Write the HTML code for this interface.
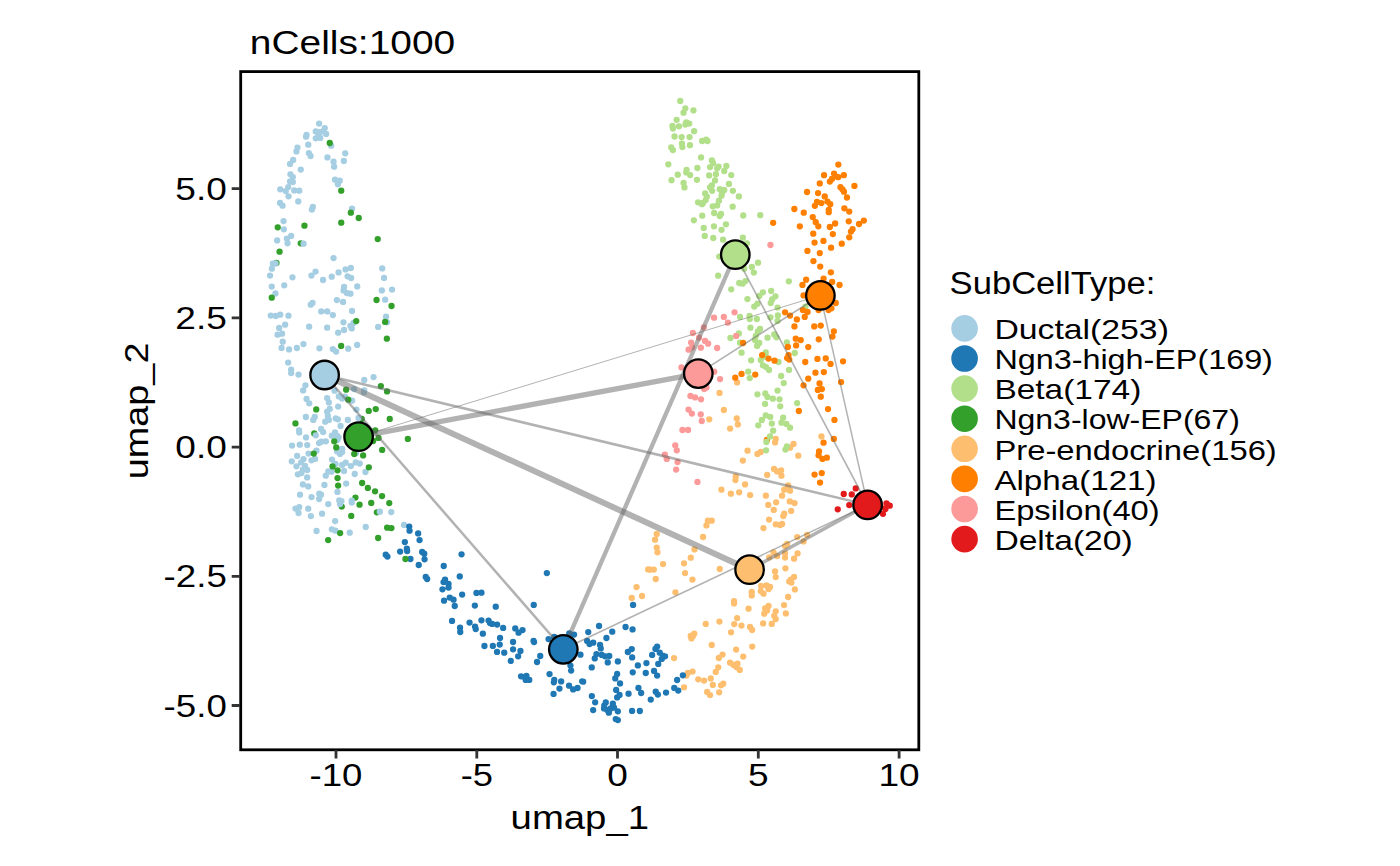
<!DOCTYPE html>
<html><head><meta charset="utf-8"><title>nCells:1000</title>
<style>
html,body{margin:0;padding:0;background:#fff}
body{width:1400px;height:866px;overflow:hidden;font-family:"Liberation Sans",sans-serif}
svg{display:block}
.h text{font-family:"Liberation Sans",sans-serif;fill:#000}
</style></head><body>
<svg width="1400" height="866" viewBox="0 0 1400 866">
<rect width="1400" height="866" fill="#fff"/>
<g id="points">
<path fill="#A6CEE3" d="M316 123.6a3.1 3.1 0 1 0 6.3 0a3.1 3.1 0 1 0 -6.3 0M321.6 128.1a3.1 3.1 0 1 0 6.3 0a3.1 3.1 0 1 0 -6.3 0M312.6 131.4a3.1 3.1 0 1 0 6.3 0a3.1 3.1 0 1 0 -6.3 0M316.4 132.1a3.1 3.1 0 1 0 6.3 0a3.1 3.1 0 1 0 -6.3 0M319.7 131.4a3.1 3.1 0 1 0 6.3 0a3.1 3.1 0 1 0 -6.3 0M323 133.9a3.1 3.1 0 1 0 6.3 0a3.1 3.1 0 1 0 -6.3 0M312.6 138.3a3.1 3.1 0 1 0 6.3 0a3.1 3.1 0 1 0 -6.3 0M317.1 137.9a3.1 3.1 0 1 0 6.3 0a3.1 3.1 0 1 0 -6.3 0M315.4 135a3.1 3.1 0 1 0 6.3 0a3.1 3.1 0 1 0 -6.3 0M303.4 135a3.1 3.1 0 1 0 6.3 0a3.1 3.1 0 1 0 -6.3 0M302.9 136.7a3.1 3.1 0 1 0 6.3 0a3.1 3.1 0 1 0 -6.3 0M305.1 144.7a3.1 3.1 0 1 0 6.3 0a3.1 3.1 0 1 0 -6.3 0M294.3 147.6a3.1 3.1 0 1 0 6.3 0a3.1 3.1 0 1 0 -6.3 0M293.3 151.4a3.1 3.1 0 1 0 6.3 0a3.1 3.1 0 1 0 -6.3 0M305.7 153.1a3.1 3.1 0 1 0 6.3 0a3.1 3.1 0 1 0 -6.3 0M307.4 156a3.1 3.1 0 1 0 6.3 0a3.1 3.1 0 1 0 -6.3 0M290 160a3.1 3.1 0 1 0 6.3 0a3.1 3.1 0 1 0 -6.3 0M286.9 163.9a3.1 3.1 0 1 0 6.3 0a3.1 3.1 0 1 0 -6.3 0M297.6 169.6a3.1 3.1 0 1 0 6.3 0a3.1 3.1 0 1 0 -6.3 0M287.3 174.3a3.1 3.1 0 1 0 6.3 0a3.1 3.1 0 1 0 -6.3 0M289.7 177.1a3.1 3.1 0 1 0 6.3 0a3.1 3.1 0 1 0 -6.3 0M286.9 181.4a3.1 3.1 0 1 0 6.3 0a3.1 3.1 0 1 0 -6.3 0M289.7 182.1a3.1 3.1 0 1 0 6.3 0a3.1 3.1 0 1 0 -6.3 0M285.1 187.1a3.1 3.1 0 1 0 6.3 0a3.1 3.1 0 1 0 -6.3 0M282.6 191.1a3.1 3.1 0 1 0 6.3 0a3.1 3.1 0 1 0 -6.3 0M277.1 189.3a3.1 3.1 0 1 0 6.3 0a3.1 3.1 0 1 0 -6.3 0M291.1 190.4a3.1 3.1 0 1 0 6.3 0a3.1 3.1 0 1 0 -6.3 0M296.1 190.7a3.1 3.1 0 1 0 6.3 0a3.1 3.1 0 1 0 -6.3 0M285.4 196.3a3.1 3.1 0 1 0 6.3 0a3.1 3.1 0 1 0 -6.3 0M295.1 201.4a3.1 3.1 0 1 0 6.3 0a3.1 3.1 0 1 0 -6.3 0M276.9 202.9a3.1 3.1 0 1 0 6.3 0a3.1 3.1 0 1 0 -6.3 0M279.4 205.7a3.1 3.1 0 1 0 6.3 0a3.1 3.1 0 1 0 -6.3 0M309.7 206.9a3.1 3.1 0 1 0 6.3 0a3.1 3.1 0 1 0 -6.3 0M308.7 209.6a3.1 3.1 0 1 0 6.3 0a3.1 3.1 0 1 0 -6.3 0M280.4 221.1a3.1 3.1 0 1 0 6.3 0a3.1 3.1 0 1 0 -6.3 0M280.7 229.3a3.1 3.1 0 1 0 6.3 0a3.1 3.1 0 1 0 -6.3 0M328 145.7a3.1 3.1 0 1 0 6.3 0a3.1 3.1 0 1 0 -6.3 0M324.3 157.4a3.1 3.1 0 1 0 6.3 0a3.1 3.1 0 1 0 -6.3 0M330.4 161.7a3.1 3.1 0 1 0 6.3 0a3.1 3.1 0 1 0 -6.3 0M331 166.7a3.1 3.1 0 1 0 6.3 0a3.1 3.1 0 1 0 -6.3 0M342.1 153.3a3.1 3.1 0 1 0 6.3 0a3.1 3.1 0 1 0 -6.3 0M340.7 160.9a3.1 3.1 0 1 0 6.3 0a3.1 3.1 0 1 0 -6.3 0M331.9 179.7a3.1 3.1 0 1 0 6.3 0a3.1 3.1 0 1 0 -6.3 0M336.6 180.7a3.1 3.1 0 1 0 6.3 0a3.1 3.1 0 1 0 -6.3 0M334.7 184.3a3.1 3.1 0 1 0 6.3 0a3.1 3.1 0 1 0 -6.3 0M348.9 208.6a3.1 3.1 0 1 0 6.3 0a3.1 3.1 0 1 0 -6.3 0"/>
<path fill="#33A02C" d="M326.6 143a3.1 3.1 0 1 0 6.3 0a3.1 3.1 0 1 0 -6.3 0M338.1 190.7a3.1 3.1 0 1 0 6.3 0a3.1 3.1 0 1 0 -6.3 0M347.7 212.7a3.1 3.1 0 1 0 6.3 0a3.1 3.1 0 1 0 -6.3 0M355.6 218a3.1 3.1 0 1 0 6.3 0a3.1 3.1 0 1 0 -6.3 0M338.1 222.7a3.1 3.1 0 1 0 6.3 0a3.1 3.1 0 1 0 -6.3 0M301.3 225.7a3.1 3.1 0 1 0 6.3 0a3.1 3.1 0 1 0 -6.3 0M274.6 227.3a3.1 3.1 0 1 0 6.3 0a3.1 3.1 0 1 0 -6.3 0"/>
<path fill="#33A02C" d="M297.6 243.3a3.1 3.1 0 1 0 6.3 0a3.1 3.1 0 1 0 -6.3 0M273.3 263a3.1 3.1 0 1 0 6.3 0a3.1 3.1 0 1 0 -6.3 0"/>
<path fill="#A6CEE3" d="M288 235.9a3.1 3.1 0 1 0 6.3 0a3.1 3.1 0 1 0 -6.3 0M283.7 238.7a3.1 3.1 0 1 0 6.3 0a3.1 3.1 0 1 0 -6.3 0M284.4 243.3a3.1 3.1 0 1 0 6.3 0a3.1 3.1 0 1 0 -6.3 0M274 240.4a3.1 3.1 0 1 0 6.3 0a3.1 3.1 0 1 0 -6.3 0M300.4 243.7a3.1 3.1 0 1 0 6.3 0a3.1 3.1 0 1 0 -6.3 0M269.7 263.7a3.1 3.1 0 1 0 6.3 0a3.1 3.1 0 1 0 -6.3 0M272.3 263.4a3.1 3.1 0 1 0 6.3 0a3.1 3.1 0 1 0 -6.3 0M268.7 268.7a3.1 3.1 0 1 0 6.3 0a3.1 3.1 0 1 0 -6.3 0M266.9 275.6a3.1 3.1 0 1 0 6.3 0a3.1 3.1 0 1 0 -6.3 0M289.3 277.3a3.1 3.1 0 1 0 6.3 0a3.1 3.1 0 1 0 -6.3 0M268.6 286.6a3.1 3.1 0 1 0 6.3 0a3.1 3.1 0 1 0 -6.3 0M281.1 285.3a3.1 3.1 0 1 0 6.3 0a3.1 3.1 0 1 0 -6.3 0M272.3 293.4a3.1 3.1 0 1 0 6.3 0a3.1 3.1 0 1 0 -6.3 0M330.4 258.1a3.1 3.1 0 1 0 6.3 0a3.1 3.1 0 1 0 -6.3 0M312.4 271.6a3.1 3.1 0 1 0 6.3 0a3.1 3.1 0 1 0 -6.3 0M308.3 275.6a3.1 3.1 0 1 0 6.3 0a3.1 3.1 0 1 0 -6.3 0M319.9 280a3.1 3.1 0 1 0 6.3 0a3.1 3.1 0 1 0 -6.3 0M328.6 276.7a3.1 3.1 0 1 0 6.3 0a3.1 3.1 0 1 0 -6.3 0M335.4 272.4a3.1 3.1 0 1 0 6.3 0a3.1 3.1 0 1 0 -6.3 0M342.4 269.4a3.1 3.1 0 1 0 6.3 0a3.1 3.1 0 1 0 -6.3 0M347.7 268a3.1 3.1 0 1 0 6.3 0a3.1 3.1 0 1 0 -6.3 0M344.4 276.3a3.1 3.1 0 1 0 6.3 0a3.1 3.1 0 1 0 -6.3 0M348 278a3.1 3.1 0 1 0 6.3 0a3.1 3.1 0 1 0 -6.3 0M340.9 287a3.1 3.1 0 1 0 6.3 0a3.1 3.1 0 1 0 -6.3 0M340.4 290.4a3.1 3.1 0 1 0 6.3 0a3.1 3.1 0 1 0 -6.3 0M343.7 293a3.1 3.1 0 1 0 6.3 0a3.1 3.1 0 1 0 -6.3 0M347.3 293.7a3.1 3.1 0 1 0 6.3 0a3.1 3.1 0 1 0 -6.3 0M354.1 286.4a3.1 3.1 0 1 0 6.3 0a3.1 3.1 0 1 0 -6.3 0M333.7 300.1a3.1 3.1 0 1 0 6.3 0a3.1 3.1 0 1 0 -6.3 0M339.9 301.9a3.1 3.1 0 1 0 6.3 0a3.1 3.1 0 1 0 -6.3 0M309.4 303a3.1 3.1 0 1 0 6.3 0a3.1 3.1 0 1 0 -6.3 0M307.6 304.7a3.1 3.1 0 1 0 6.3 0a3.1 3.1 0 1 0 -6.3 0M318.1 311.4a3.1 3.1 0 1 0 6.3 0a3.1 3.1 0 1 0 -6.3 0M324.1 311.4a3.1 3.1 0 1 0 6.3 0a3.1 3.1 0 1 0 -6.3 0M329.7 315.1a3.1 3.1 0 1 0 6.3 0a3.1 3.1 0 1 0 -6.3 0M348.9 310.9a3.1 3.1 0 1 0 6.3 0a3.1 3.1 0 1 0 -6.3 0M267.6 315.6a3.1 3.1 0 1 0 6.3 0a3.1 3.1 0 1 0 -6.3 0M272.6 316a3.1 3.1 0 1 0 6.3 0a3.1 3.1 0 1 0 -6.3 0M277.1 314.7a3.1 3.1 0 1 0 6.3 0a3.1 3.1 0 1 0 -6.3 0M285.3 315.7a3.1 3.1 0 1 0 6.3 0a3.1 3.1 0 1 0 -6.3 0M282 324.7a3.1 3.1 0 1 0 6.3 0a3.1 3.1 0 1 0 -6.3 0M276 327.9a3.1 3.1 0 1 0 6.3 0a3.1 3.1 0 1 0 -6.3 0M274.4 334.7a3.1 3.1 0 1 0 6.3 0a3.1 3.1 0 1 0 -6.3 0M278.9 333.7a3.1 3.1 0 1 0 6.3 0a3.1 3.1 0 1 0 -6.3 0M279.6 341.7a3.1 3.1 0 1 0 6.3 0a3.1 3.1 0 1 0 -6.3 0M278.4 347.9a3.1 3.1 0 1 0 6.3 0a3.1 3.1 0 1 0 -6.3 0M285.9 349.4a3.1 3.1 0 1 0 6.3 0a3.1 3.1 0 1 0 -6.3 0M293.7 348a3.1 3.1 0 1 0 6.3 0a3.1 3.1 0 1 0 -6.3 0M300.3 344.1a3.1 3.1 0 1 0 6.3 0a3.1 3.1 0 1 0 -6.3 0M306 326.7a3.1 3.1 0 1 0 6.3 0a3.1 3.1 0 1 0 -6.3 0M324 327.7a3.1 3.1 0 1 0 6.3 0a3.1 3.1 0 1 0 -6.3 0M340.3 322.3a3.1 3.1 0 1 0 6.3 0a3.1 3.1 0 1 0 -6.3 0M350.4 323a3.1 3.1 0 1 0 6.3 0a3.1 3.1 0 1 0 -6.3 0M347.3 325.9a3.1 3.1 0 1 0 6.3 0a3.1 3.1 0 1 0 -6.3 0M348.6 328.4a3.1 3.1 0 1 0 6.3 0a3.1 3.1 0 1 0 -6.3 0M340.9 330a3.1 3.1 0 1 0 6.3 0a3.1 3.1 0 1 0 -6.3 0M335 332.7a3.1 3.1 0 1 0 6.3 0a3.1 3.1 0 1 0 -6.3 0M316.3 348.3a3.1 3.1 0 1 0 6.3 0a3.1 3.1 0 1 0 -6.3 0M329.7 349.1a3.1 3.1 0 1 0 6.3 0a3.1 3.1 0 1 0 -6.3 0M333 351.6a3.1 3.1 0 1 0 6.3 0a3.1 3.1 0 1 0 -6.3 0M345.1 348.7a3.1 3.1 0 1 0 6.3 0a3.1 3.1 0 1 0 -6.3 0M354 344.9a3.1 3.1 0 1 0 6.3 0a3.1 3.1 0 1 0 -6.3 0M379.1 268.4a3.1 3.1 0 1 0 6.3 0a3.1 3.1 0 1 0 -6.3 0M380.9 277.9a3.1 3.1 0 1 0 6.3 0a3.1 3.1 0 1 0 -6.3 0M378.7 290.4a3.1 3.1 0 1 0 6.3 0a3.1 3.1 0 1 0 -6.3 0M388.9 289.6a3.1 3.1 0 1 0 6.3 0a3.1 3.1 0 1 0 -6.3 0M382 299.7a3.1 3.1 0 1 0 6.3 0a3.1 3.1 0 1 0 -6.3 0M382.9 316.7a3.1 3.1 0 1 0 6.3 0a3.1 3.1 0 1 0 -6.3 0M384 322.3a3.1 3.1 0 1 0 6.3 0a3.1 3.1 0 1 0 -6.3 0M375 326.9a3.1 3.1 0 1 0 6.3 0a3.1 3.1 0 1 0 -6.3 0"/>
<path fill="#33A02C" d="M374.6 239.1a3.1 3.1 0 1 0 6.3 0a3.1 3.1 0 1 0 -6.3 0M276.4 251.7a3.1 3.1 0 1 0 6.3 0a3.1 3.1 0 1 0 -6.3 0M268.6 297.7a3.1 3.1 0 1 0 6.3 0a3.1 3.1 0 1 0 -6.3 0M373.4 300a3.1 3.1 0 1 0 6.3 0a3.1 3.1 0 1 0 -6.3 0M388.4 306a3.1 3.1 0 1 0 6.3 0a3.1 3.1 0 1 0 -6.3 0M353.1 321.1a3.1 3.1 0 1 0 6.3 0a3.1 3.1 0 1 0 -6.3 0M382 321.9a3.1 3.1 0 1 0 6.3 0a3.1 3.1 0 1 0 -6.3 0M383.7 338.7a3.1 3.1 0 1 0 6.3 0a3.1 3.1 0 1 0 -6.3 0M338 345.9a3.1 3.1 0 1 0 6.3 0a3.1 3.1 0 1 0 -6.3 0"/>
<path fill="#33A02C" d="M311.1 433.4a3.1 3.1 0 1 0 6.3 0a3.1 3.1 0 1 0 -6.3 0M358.6 418.9a3.1 3.1 0 1 0 6.3 0a3.1 3.1 0 1 0 -6.3 0"/>
<path fill="#A6CEE3" d="M285 362.6a3.1 3.1 0 1 0 6.3 0a3.1 3.1 0 1 0 -6.3 0M288 369.6a3.1 3.1 0 1 0 6.3 0a3.1 3.1 0 1 0 -6.3 0M288 373.1a3.1 3.1 0 1 0 6.3 0a3.1 3.1 0 1 0 -6.3 0M295.4 374.6a3.1 3.1 0 1 0 6.3 0a3.1 3.1 0 1 0 -6.3 0M302.3 385.3a3.1 3.1 0 1 0 6.3 0a3.1 3.1 0 1 0 -6.3 0M300 390.4a3.1 3.1 0 1 0 6.3 0a3.1 3.1 0 1 0 -6.3 0M303.4 398.9a3.1 3.1 0 1 0 6.3 0a3.1 3.1 0 1 0 -6.3 0M306.1 403.3a3.1 3.1 0 1 0 6.3 0a3.1 3.1 0 1 0 -6.3 0M302.7 417a3.1 3.1 0 1 0 6.3 0a3.1 3.1 0 1 0 -6.3 0M311.6 417a3.1 3.1 0 1 0 6.3 0a3.1 3.1 0 1 0 -6.3 0M310.1 419.9a3.1 3.1 0 1 0 6.3 0a3.1 3.1 0 1 0 -6.3 0M324 398.1a3.1 3.1 0 1 0 6.3 0a3.1 3.1 0 1 0 -6.3 0M325.7 402.4a3.1 3.1 0 1 0 6.3 0a3.1 3.1 0 1 0 -6.3 0M326.6 408.9a3.1 3.1 0 1 0 6.3 0a3.1 3.1 0 1 0 -6.3 0M324 411.7a3.1 3.1 0 1 0 6.3 0a3.1 3.1 0 1 0 -6.3 0M324.7 416a3.1 3.1 0 1 0 6.3 0a3.1 3.1 0 1 0 -6.3 0M325.7 419.9a3.1 3.1 0 1 0 6.3 0a3.1 3.1 0 1 0 -6.3 0M322.1 421.7a3.1 3.1 0 1 0 6.3 0a3.1 3.1 0 1 0 -6.3 0M335 406.6a3.1 3.1 0 1 0 6.3 0a3.1 3.1 0 1 0 -6.3 0M332.6 418.4a3.1 3.1 0 1 0 6.3 0a3.1 3.1 0 1 0 -6.3 0M334.7 419.3a3.1 3.1 0 1 0 6.3 0a3.1 3.1 0 1 0 -6.3 0M337.4 425.9a3.1 3.1 0 1 0 6.3 0a3.1 3.1 0 1 0 -6.3 0M344.7 420a3.1 3.1 0 1 0 6.3 0a3.1 3.1 0 1 0 -6.3 0M353.3 409.6a3.1 3.1 0 1 0 6.3 0a3.1 3.1 0 1 0 -6.3 0M355.4 417.9a3.1 3.1 0 1 0 6.3 0a3.1 3.1 0 1 0 -6.3 0M331.4 390.7a3.1 3.1 0 1 0 6.3 0a3.1 3.1 0 1 0 -6.3 0M335.7 396.4a3.1 3.1 0 1 0 6.3 0a3.1 3.1 0 1 0 -6.3 0M339 398.6a3.1 3.1 0 1 0 6.3 0a3.1 3.1 0 1 0 -6.3 0M341.9 396.7a3.1 3.1 0 1 0 6.3 0a3.1 3.1 0 1 0 -6.3 0M349 400.7a3.1 3.1 0 1 0 6.3 0a3.1 3.1 0 1 0 -6.3 0M361.1 380a3.1 3.1 0 1 0 6.3 0a3.1 3.1 0 1 0 -6.3 0M370.4 377.1a3.1 3.1 0 1 0 6.3 0a3.1 3.1 0 1 0 -6.3 0M361.1 390.3a3.1 3.1 0 1 0 6.3 0a3.1 3.1 0 1 0 -6.3 0M350.9 389.1a3.1 3.1 0 1 0 6.3 0a3.1 3.1 0 1 0 -6.3 0M360.7 392.4a3.1 3.1 0 1 0 6.3 0a3.1 3.1 0 1 0 -6.3 0M295.9 430.3a3.1 3.1 0 1 0 6.3 0a3.1 3.1 0 1 0 -6.3 0M296.1 432.4a3.1 3.1 0 1 0 6.3 0a3.1 3.1 0 1 0 -6.3 0M317.9 428.9a3.1 3.1 0 1 0 6.3 0a3.1 3.1 0 1 0 -6.3 0M320 432.1a3.1 3.1 0 1 0 6.3 0a3.1 3.1 0 1 0 -6.3 0M302.9 437.4a3.1 3.1 0 1 0 6.3 0a3.1 3.1 0 1 0 -6.3 0M312.6 435.3a3.1 3.1 0 1 0 6.3 0a3.1 3.1 0 1 0 -6.3 0M331.9 432.4a3.1 3.1 0 1 0 6.3 0a3.1 3.1 0 1 0 -6.3 0M328.7 435.7a3.1 3.1 0 1 0 6.3 0a3.1 3.1 0 1 0 -6.3 0M334 436a3.1 3.1 0 1 0 6.3 0a3.1 3.1 0 1 0 -6.3 0M335.4 437.4a3.1 3.1 0 1 0 6.3 0a3.1 3.1 0 1 0 -6.3 0M334.3 440a3.1 3.1 0 1 0 6.3 0a3.1 3.1 0 1 0 -6.3 0M315.9 443.1a3.1 3.1 0 1 0 6.3 0a3.1 3.1 0 1 0 -6.3 0M318.3 441.7a3.1 3.1 0 1 0 6.3 0a3.1 3.1 0 1 0 -6.3 0M322.7 441.3a3.1 3.1 0 1 0 6.3 0a3.1 3.1 0 1 0 -6.3 0M288.9 445.6a3.1 3.1 0 1 0 6.3 0a3.1 3.1 0 1 0 -6.3 0M296.6 444.7a3.1 3.1 0 1 0 6.3 0a3.1 3.1 0 1 0 -6.3 0M304.1 445.1a3.1 3.1 0 1 0 6.3 0a3.1 3.1 0 1 0 -6.3 0M313.3 450.7a3.1 3.1 0 1 0 6.3 0a3.1 3.1 0 1 0 -6.3 0M305.4 453.6a3.1 3.1 0 1 0 6.3 0a3.1 3.1 0 1 0 -6.3 0M294 455.9a3.1 3.1 0 1 0 6.3 0a3.1 3.1 0 1 0 -6.3 0M288.6 461.3a3.1 3.1 0 1 0 6.3 0a3.1 3.1 0 1 0 -6.3 0M300.4 459.1a3.1 3.1 0 1 0 6.3 0a3.1 3.1 0 1 0 -6.3 0M298 462.4a3.1 3.1 0 1 0 6.3 0a3.1 3.1 0 1 0 -6.3 0M308.3 460.3a3.1 3.1 0 1 0 6.3 0a3.1 3.1 0 1 0 -6.3 0M311.9 458.9a3.1 3.1 0 1 0 6.3 0a3.1 3.1 0 1 0 -6.3 0M293.3 466.3a3.1 3.1 0 1 0 6.3 0a3.1 3.1 0 1 0 -6.3 0M301.9 466a3.1 3.1 0 1 0 6.3 0a3.1 3.1 0 1 0 -6.3 0M299.7 469.6a3.1 3.1 0 1 0 6.3 0a3.1 3.1 0 1 0 -6.3 0M304 469.9a3.1 3.1 0 1 0 6.3 0a3.1 3.1 0 1 0 -6.3 0M294.7 474.3a3.1 3.1 0 1 0 6.3 0a3.1 3.1 0 1 0 -6.3 0M298.3 473.1a3.1 3.1 0 1 0 6.3 0a3.1 3.1 0 1 0 -6.3 0M304 477.4a3.1 3.1 0 1 0 6.3 0a3.1 3.1 0 1 0 -6.3 0M337.1 449.6a3.1 3.1 0 1 0 6.3 0a3.1 3.1 0 1 0 -6.3 0M339 448.9a3.1 3.1 0 1 0 6.3 0a3.1 3.1 0 1 0 -6.3 0M334 451.4a3.1 3.1 0 1 0 6.3 0a3.1 3.1 0 1 0 -6.3 0M336.9 453.9a3.1 3.1 0 1 0 6.3 0a3.1 3.1 0 1 0 -6.3 0M339 452a3.1 3.1 0 1 0 6.3 0a3.1 3.1 0 1 0 -6.3 0M328.9 459.6a3.1 3.1 0 1 0 6.3 0a3.1 3.1 0 1 0 -6.3 0M332.3 463.9a3.1 3.1 0 1 0 6.3 0a3.1 3.1 0 1 0 -6.3 0M339 464.9a3.1 3.1 0 1 0 6.3 0a3.1 3.1 0 1 0 -6.3 0M342.6 462.7a3.1 3.1 0 1 0 6.3 0a3.1 3.1 0 1 0 -6.3 0M347.7 466.1a3.1 3.1 0 1 0 6.3 0a3.1 3.1 0 1 0 -6.3 0M352.6 462.4a3.1 3.1 0 1 0 6.3 0a3.1 3.1 0 1 0 -6.3 0M356.6 463.6a3.1 3.1 0 1 0 6.3 0a3.1 3.1 0 1 0 -6.3 0M325.1 471.4a3.1 3.1 0 1 0 6.3 0a3.1 3.1 0 1 0 -6.3 0M328.3 471.7a3.1 3.1 0 1 0 6.3 0a3.1 3.1 0 1 0 -6.3 0M322.6 475.7a3.1 3.1 0 1 0 6.3 0a3.1 3.1 0 1 0 -6.3 0M340.9 470.9a3.1 3.1 0 1 0 6.3 0a3.1 3.1 0 1 0 -6.3 0M351.6 474a3.1 3.1 0 1 0 6.3 0a3.1 3.1 0 1 0 -6.3 0M362.3 472a3.1 3.1 0 1 0 6.3 0a3.1 3.1 0 1 0 -6.3 0M352.9 453.1a3.1 3.1 0 1 0 6.3 0a3.1 3.1 0 1 0 -6.3 0"/>
<path fill="#33A02C" d="M343 389.7a3.1 3.1 0 1 0 6.3 0a3.1 3.1 0 1 0 -6.3 0M345.1 399.7a3.1 3.1 0 1 0 6.3 0a3.1 3.1 0 1 0 -6.3 0M377.7 386.1a3.1 3.1 0 1 0 6.3 0a3.1 3.1 0 1 0 -6.3 0M383.9 391.4a3.1 3.1 0 1 0 6.3 0a3.1 3.1 0 1 0 -6.3 0M313.1 409.4a3.1 3.1 0 1 0 6.3 0a3.1 3.1 0 1 0 -6.3 0M365.6 410.9a3.1 3.1 0 1 0 6.3 0a3.1 3.1 0 1 0 -6.3 0M372.6 409.1a3.1 3.1 0 1 0 6.3 0a3.1 3.1 0 1 0 -6.3 0M386.6 418.9a3.1 3.1 0 1 0 6.3 0a3.1 3.1 0 1 0 -6.3 0M292.3 423.4a3.1 3.1 0 1 0 6.3 0a3.1 3.1 0 1 0 -6.3 0M372.1 430.3a3.1 3.1 0 1 0 6.3 0a3.1 3.1 0 1 0 -6.3 0M375.4 437.9a3.1 3.1 0 1 0 6.3 0a3.1 3.1 0 1 0 -6.3 0M370 441a3.1 3.1 0 1 0 6.3 0a3.1 3.1 0 1 0 -6.3 0M404.7 438.9a3.1 3.1 0 1 0 6.3 0a3.1 3.1 0 1 0 -6.3 0M379 449.9a3.1 3.1 0 1 0 6.3 0a3.1 3.1 0 1 0 -6.3 0M331.1 441.3a3.1 3.1 0 1 0 6.3 0a3.1 3.1 0 1 0 -6.3 0M333.1 447.4a3.1 3.1 0 1 0 6.3 0a3.1 3.1 0 1 0 -6.3 0M310.6 453.6a3.1 3.1 0 1 0 6.3 0a3.1 3.1 0 1 0 -6.3 0M351.1 454a3.1 3.1 0 1 0 6.3 0a3.1 3.1 0 1 0 -6.3 0M360 455.4a3.1 3.1 0 1 0 6.3 0a3.1 3.1 0 1 0 -6.3 0M365.7 467.3a3.1 3.1 0 1 0 6.3 0a3.1 3.1 0 1 0 -6.3 0M329.4 466.4a3.1 3.1 0 1 0 6.3 0a3.1 3.1 0 1 0 -6.3 0M334.4 470.3a3.1 3.1 0 1 0 6.3 0a3.1 3.1 0 1 0 -6.3 0M334.4 478.1a3.1 3.1 0 1 0 6.3 0a3.1 3.1 0 1 0 -6.3 0"/>
<path fill="#33A02C" d="M352.3 497.6a3.1 3.1 0 1 0 6.3 0a3.1 3.1 0 1 0 -6.3 0M338.6 506.6a3.1 3.1 0 1 0 6.3 0a3.1 3.1 0 1 0 -6.3 0M373.7 512.3a3.1 3.1 0 1 0 6.3 0a3.1 3.1 0 1 0 -6.3 0"/>
<path fill="#A6CEE3" d="M299.7 484.4a3.1 3.1 0 1 0 6.3 0a3.1 3.1 0 1 0 -6.3 0M305.1 486.4a3.1 3.1 0 1 0 6.3 0a3.1 3.1 0 1 0 -6.3 0M321.3 484.9a3.1 3.1 0 1 0 6.3 0a3.1 3.1 0 1 0 -6.3 0M343 483.6a3.1 3.1 0 1 0 6.3 0a3.1 3.1 0 1 0 -6.3 0M296.9 494.7a3.1 3.1 0 1 0 6.3 0a3.1 3.1 0 1 0 -6.3 0M308.4 497.1a3.1 3.1 0 1 0 6.3 0a3.1 3.1 0 1 0 -6.3 0M316.1 493.7a3.1 3.1 0 1 0 6.3 0a3.1 3.1 0 1 0 -6.3 0M317.9 494.7a3.1 3.1 0 1 0 6.3 0a3.1 3.1 0 1 0 -6.3 0M316 499a3.1 3.1 0 1 0 6.3 0a3.1 3.1 0 1 0 -6.3 0M334.3 491.9a3.1 3.1 0 1 0 6.3 0a3.1 3.1 0 1 0 -6.3 0M336.1 500.4a3.1 3.1 0 1 0 6.3 0a3.1 3.1 0 1 0 -6.3 0M338.3 501.1a3.1 3.1 0 1 0 6.3 0a3.1 3.1 0 1 0 -6.3 0M336.9 504a3.1 3.1 0 1 0 6.3 0a3.1 3.1 0 1 0 -6.3 0M325.1 504.1a3.1 3.1 0 1 0 6.3 0a3.1 3.1 0 1 0 -6.3 0M348.6 500.7a3.1 3.1 0 1 0 6.3 0a3.1 3.1 0 1 0 -6.3 0M348.6 502.6a3.1 3.1 0 1 0 6.3 0a3.1 3.1 0 1 0 -6.3 0M292.3 508.6a3.1 3.1 0 1 0 6.3 0a3.1 3.1 0 1 0 -6.3 0M296.1 507.1a3.1 3.1 0 1 0 6.3 0a3.1 3.1 0 1 0 -6.3 0M295.4 513a3.1 3.1 0 1 0 6.3 0a3.1 3.1 0 1 0 -6.3 0M305.1 508.7a3.1 3.1 0 1 0 6.3 0a3.1 3.1 0 1 0 -6.3 0M307.7 516.1a3.1 3.1 0 1 0 6.3 0a3.1 3.1 0 1 0 -6.3 0M318.9 513.7a3.1 3.1 0 1 0 6.3 0a3.1 3.1 0 1 0 -6.3 0M332 521.1a3.1 3.1 0 1 0 6.3 0a3.1 3.1 0 1 0 -6.3 0M376.7 511.7a3.1 3.1 0 1 0 6.3 0a3.1 3.1 0 1 0 -6.3 0M388.1 512.1a3.1 3.1 0 1 0 6.3 0a3.1 3.1 0 1 0 -6.3 0M362.6 527a3.1 3.1 0 1 0 6.3 0a3.1 3.1 0 1 0 -6.3 0M400.9 524.9a3.1 3.1 0 1 0 6.3 0a3.1 3.1 0 1 0 -6.3 0M313.4 531a3.1 3.1 0 1 0 6.3 0a3.1 3.1 0 1 0 -6.3 0M328.7 529.3a3.1 3.1 0 1 0 6.3 0a3.1 3.1 0 1 0 -6.3 0M332.3 530.7a3.1 3.1 0 1 0 6.3 0a3.1 3.1 0 1 0 -6.3 0M346.6 532.7a3.1 3.1 0 1 0 6.3 0a3.1 3.1 0 1 0 -6.3 0"/>
<path fill="#1F78B4" d="M406.1 526.6a3.1 3.1 0 1 0 6.3 0a3.1 3.1 0 1 0 -6.3 0M406.4 530.7a3.1 3.1 0 1 0 6.3 0a3.1 3.1 0 1 0 -6.3 0M415 533.4a3.1 3.1 0 1 0 6.3 0a3.1 3.1 0 1 0 -6.3 0M416.4 540.1a3.1 3.1 0 1 0 6.3 0a3.1 3.1 0 1 0 -6.3 0M401.7 542.1a3.1 3.1 0 1 0 6.3 0a3.1 3.1 0 1 0 -6.3 0M403.7 548.7a3.1 3.1 0 1 0 6.3 0a3.1 3.1 0 1 0 -6.3 0M404 551.1a3.1 3.1 0 1 0 6.3 0a3.1 3.1 0 1 0 -6.3 0M397 551.6a3.1 3.1 0 1 0 6.3 0a3.1 3.1 0 1 0 -6.3 0M419 551.9a3.1 3.1 0 1 0 6.3 0a3.1 3.1 0 1 0 -6.3 0M421.1 553.7a3.1 3.1 0 1 0 6.3 0a3.1 3.1 0 1 0 -6.3 0M421.4 559.3a3.1 3.1 0 1 0 6.3 0a3.1 3.1 0 1 0 -6.3 0M382.6 554.7a3.1 3.1 0 1 0 6.3 0a3.1 3.1 0 1 0 -6.3 0M384.3 556.6a3.1 3.1 0 1 0 6.3 0a3.1 3.1 0 1 0 -6.3 0M407.3 559a3.1 3.1 0 1 0 6.3 0a3.1 3.1 0 1 0 -6.3 0M415.6 565a3.1 3.1 0 1 0 6.3 0a3.1 3.1 0 1 0 -6.3 0M440.6 566a3.1 3.1 0 1 0 6.3 0a3.1 3.1 0 1 0 -6.3 0M422.6 576.9a3.1 3.1 0 1 0 6.3 0a3.1 3.1 0 1 0 -6.3 0M424 579a3.1 3.1 0 1 0 6.3 0a3.1 3.1 0 1 0 -6.3 0M441.9 579.7a3.1 3.1 0 1 0 6.3 0a3.1 3.1 0 1 0 -6.3 0M440.4 582.1a3.1 3.1 0 1 0 6.3 0a3.1 3.1 0 1 0 -6.3 0M445.4 584a3.1 3.1 0 1 0 6.3 0a3.1 3.1 0 1 0 -6.3 0M439.3 589.3a3.1 3.1 0 1 0 6.3 0a3.1 3.1 0 1 0 -6.3 0M445.4 587.6a3.1 3.1 0 1 0 6.3 0a3.1 3.1 0 1 0 -6.3 0M440.9 600.7a3.1 3.1 0 1 0 6.3 0a3.1 3.1 0 1 0 -6.3 0M446.6 597.6a3.1 3.1 0 1 0 6.3 0a3.1 3.1 0 1 0 -6.3 0"/>
<path fill="#33A02C" d="M335 485.6a3.1 3.1 0 1 0 6.3 0a3.1 3.1 0 1 0 -6.3 0M359 483a3.1 3.1 0 1 0 6.3 0a3.1 3.1 0 1 0 -6.3 0M364.7 487.9a3.1 3.1 0 1 0 6.3 0a3.1 3.1 0 1 0 -6.3 0M371.9 491.3a3.1 3.1 0 1 0 6.3 0a3.1 3.1 0 1 0 -6.3 0M378.9 496.1a3.1 3.1 0 1 0 6.3 0a3.1 3.1 0 1 0 -6.3 0M386.1 503.1a3.1 3.1 0 1 0 6.3 0a3.1 3.1 0 1 0 -6.3 0M356.4 504.7a3.1 3.1 0 1 0 6.3 0a3.1 3.1 0 1 0 -6.3 0M368.1 502.9a3.1 3.1 0 1 0 6.3 0a3.1 3.1 0 1 0 -6.3 0M348.1 515.9a3.1 3.1 0 1 0 6.3 0a3.1 3.1 0 1 0 -6.3 0M384 527.7a3.1 3.1 0 1 0 6.3 0a3.1 3.1 0 1 0 -6.3 0M388.3 528.1a3.1 3.1 0 1 0 6.3 0a3.1 3.1 0 1 0 -6.3 0M337 533.1a3.1 3.1 0 1 0 6.3 0a3.1 3.1 0 1 0 -6.3 0M375 538a3.1 3.1 0 1 0 6.3 0a3.1 3.1 0 1 0 -6.3 0M325 540.1a3.1 3.1 0 1 0 6.3 0a3.1 3.1 0 1 0 -6.3 0M402.3 559a3.1 3.1 0 1 0 6.3 0a3.1 3.1 0 1 0 -6.3 0"/>
<path fill="#FDBF6F" d="M645 569.4a3.1 3.1 0 1 0 6.3 0a3.1 3.1 0 1 0 -6.3 0M633.4 587.1a3.1 3.1 0 1 0 6.3 0a3.1 3.1 0 1 0 -6.3 0M628.6 598a3.1 3.1 0 1 0 6.3 0a3.1 3.1 0 1 0 -6.3 0M638.9 596a3.1 3.1 0 1 0 6.3 0a3.1 3.1 0 1 0 -6.3 0"/>
<path fill="#1F78B4" d="M458.4 554.3a3.1 3.1 0 1 0 6.3 0a3.1 3.1 0 1 0 -6.3 0M456.6 576.4a3.1 3.1 0 1 0 6.3 0a3.1 3.1 0 1 0 -6.3 0M543.7 573.1a3.1 3.1 0 1 0 6.3 0a3.1 3.1 0 1 0 -6.3 0M459 594.6a3.1 3.1 0 1 0 6.3 0a3.1 3.1 0 1 0 -6.3 0M473.3 592.9a3.1 3.1 0 1 0 6.3 0a3.1 3.1 0 1 0 -6.3 0M478.3 592.7a3.1 3.1 0 1 0 6.3 0a3.1 3.1 0 1 0 -6.3 0M450.4 599.7a3.1 3.1 0 1 0 6.3 0a3.1 3.1 0 1 0 -6.3 0"/>
<path fill="#1F78B4" d="M451.6 606a3.1 3.1 0 1 0 6.3 0a3.1 3.1 0 1 0 -6.3 0M471.7 605.6a3.1 3.1 0 1 0 6.3 0a3.1 3.1 0 1 0 -6.3 0M492.6 606.7a3.1 3.1 0 1 0 6.3 0a3.1 3.1 0 1 0 -6.3 0M530.6 604.9a3.1 3.1 0 1 0 6.3 0a3.1 3.1 0 1 0 -6.3 0M629.9 604.9a3.1 3.1 0 1 0 6.3 0a3.1 3.1 0 1 0 -6.3 0M448.9 620.9a3.1 3.1 0 1 0 6.3 0a3.1 3.1 0 1 0 -6.3 0M466.4 622.6a3.1 3.1 0 1 0 6.3 0a3.1 3.1 0 1 0 -6.3 0M478.3 620.3a3.1 3.1 0 1 0 6.3 0a3.1 3.1 0 1 0 -6.3 0M456.9 627.7a3.1 3.1 0 1 0 6.3 0a3.1 3.1 0 1 0 -6.3 0M457.1 632a3.1 3.1 0 1 0 6.3 0a3.1 3.1 0 1 0 -6.3 0M471.9 626.6a3.1 3.1 0 1 0 6.3 0a3.1 3.1 0 1 0 -6.3 0M472.6 629.1a3.1 3.1 0 1 0 6.3 0a3.1 3.1 0 1 0 -6.3 0M479.7 633.7a3.1 3.1 0 1 0 6.3 0a3.1 3.1 0 1 0 -6.3 0M485.4 620.6a3.1 3.1 0 1 0 6.3 0a3.1 3.1 0 1 0 -6.3 0M486.9 623.1a3.1 3.1 0 1 0 6.3 0a3.1 3.1 0 1 0 -6.3 0M489 623.9a3.1 3.1 0 1 0 6.3 0a3.1 3.1 0 1 0 -6.3 0M494 624.6a3.1 3.1 0 1 0 6.3 0a3.1 3.1 0 1 0 -6.3 0M500 627.9a3.1 3.1 0 1 0 6.3 0a3.1 3.1 0 1 0 -6.3 0M512.1 628.4a3.1 3.1 0 1 0 6.3 0a3.1 3.1 0 1 0 -6.3 0M519.4 630.1a3.1 3.1 0 1 0 6.3 0a3.1 3.1 0 1 0 -6.3 0M515.4 632.7a3.1 3.1 0 1 0 6.3 0a3.1 3.1 0 1 0 -6.3 0M496.9 638a3.1 3.1 0 1 0 6.3 0a3.1 3.1 0 1 0 -6.3 0M509.9 642a3.1 3.1 0 1 0 6.3 0a3.1 3.1 0 1 0 -6.3 0M530.4 640.9a3.1 3.1 0 1 0 6.3 0a3.1 3.1 0 1 0 -6.3 0M530.9 642a3.1 3.1 0 1 0 6.3 0a3.1 3.1 0 1 0 -6.3 0M496.6 644.6a3.1 3.1 0 1 0 6.3 0a3.1 3.1 0 1 0 -6.3 0M489.7 645.9a3.1 3.1 0 1 0 6.3 0a3.1 3.1 0 1 0 -6.3 0M481.3 646a3.1 3.1 0 1 0 6.3 0a3.1 3.1 0 1 0 -6.3 0M493.9 651.9a3.1 3.1 0 1 0 6.3 0a3.1 3.1 0 1 0 -6.3 0M501.1 652.7a3.1 3.1 0 1 0 6.3 0a3.1 3.1 0 1 0 -6.3 0M509.9 649.3a3.1 3.1 0 1 0 6.3 0a3.1 3.1 0 1 0 -6.3 0M517.3 651a3.1 3.1 0 1 0 6.3 0a3.1 3.1 0 1 0 -6.3 0M515 656.3a3.1 3.1 0 1 0 6.3 0a3.1 3.1 0 1 0 -6.3 0M507.6 660.9a3.1 3.1 0 1 0 6.3 0a3.1 3.1 0 1 0 -6.3 0M537.1 656a3.1 3.1 0 1 0 6.3 0a3.1 3.1 0 1 0 -6.3 0M533.9 662a3.1 3.1 0 1 0 6.3 0a3.1 3.1 0 1 0 -6.3 0M545.4 639.1a3.1 3.1 0 1 0 6.3 0a3.1 3.1 0 1 0 -6.3 0M551.1 637a3.1 3.1 0 1 0 6.3 0a3.1 3.1 0 1 0 -6.3 0M566.1 633.4a3.1 3.1 0 1 0 6.3 0a3.1 3.1 0 1 0 -6.3 0M570.9 634.6a3.1 3.1 0 1 0 6.3 0a3.1 3.1 0 1 0 -6.3 0M585.1 632.1a3.1 3.1 0 1 0 6.3 0a3.1 3.1 0 1 0 -6.3 0M595.9 626a3.1 3.1 0 1 0 6.3 0a3.1 3.1 0 1 0 -6.3 0M609.1 631.7a3.1 3.1 0 1 0 6.3 0a3.1 3.1 0 1 0 -6.3 0M603.3 638a3.1 3.1 0 1 0 6.3 0a3.1 3.1 0 1 0 -6.3 0M622.4 627a3.1 3.1 0 1 0 6.3 0a3.1 3.1 0 1 0 -6.3 0M629.4 629.4a3.1 3.1 0 1 0 6.3 0a3.1 3.1 0 1 0 -6.3 0M584 640.9a3.1 3.1 0 1 0 6.3 0a3.1 3.1 0 1 0 -6.3 0M586.4 644.1a3.1 3.1 0 1 0 6.3 0a3.1 3.1 0 1 0 -6.3 0M590.1 642.7a3.1 3.1 0 1 0 6.3 0a3.1 3.1 0 1 0 -6.3 0M596.9 644.9a3.1 3.1 0 1 0 6.3 0a3.1 3.1 0 1 0 -6.3 0M597.6 648.4a3.1 3.1 0 1 0 6.3 0a3.1 3.1 0 1 0 -6.3 0M577.3 654.7a3.1 3.1 0 1 0 6.3 0a3.1 3.1 0 1 0 -6.3 0M593.3 654.1a3.1 3.1 0 1 0 6.3 0a3.1 3.1 0 1 0 -6.3 0M591.6 658.4a3.1 3.1 0 1 0 6.3 0a3.1 3.1 0 1 0 -6.3 0M598.6 654.9a3.1 3.1 0 1 0 6.3 0a3.1 3.1 0 1 0 -6.3 0M601.9 656.3a3.1 3.1 0 1 0 6.3 0a3.1 3.1 0 1 0 -6.3 0M606.1 656a3.1 3.1 0 1 0 6.3 0a3.1 3.1 0 1 0 -6.3 0M604.6 662.4a3.1 3.1 0 1 0 6.3 0a3.1 3.1 0 1 0 -6.3 0M614.7 661.4a3.1 3.1 0 1 0 6.3 0a3.1 3.1 0 1 0 -6.3 0M588.6 667.4a3.1 3.1 0 1 0 6.3 0a3.1 3.1 0 1 0 -6.3 0M624.7 652a3.1 3.1 0 1 0 6.3 0a3.1 3.1 0 1 0 -6.3 0M628.6 649.1a3.1 3.1 0 1 0 6.3 0a3.1 3.1 0 1 0 -6.3 0M629 657.4a3.1 3.1 0 1 0 6.3 0a3.1 3.1 0 1 0 -6.3 0M634.7 665.4a3.1 3.1 0 1 0 6.3 0a3.1 3.1 0 1 0 -6.3 0M643.3 663.1a3.1 3.1 0 1 0 6.3 0a3.1 3.1 0 1 0 -6.3 0M629.6 672.3a3.1 3.1 0 1 0 6.3 0a3.1 3.1 0 1 0 -6.3 0M642.6 673a3.1 3.1 0 1 0 6.3 0a3.1 3.1 0 1 0 -6.3 0M649 654.9a3.1 3.1 0 1 0 6.3 0a3.1 3.1 0 1 0 -6.3 0M567.3 665.6a3.1 3.1 0 1 0 6.3 0a3.1 3.1 0 1 0 -6.3 0M568 670.6a3.1 3.1 0 1 0 6.3 0a3.1 3.1 0 1 0 -6.3 0M546.4 674.1a3.1 3.1 0 1 0 6.3 0a3.1 3.1 0 1 0 -6.3 0M551.1 679.9a3.1 3.1 0 1 0 6.3 0a3.1 3.1 0 1 0 -6.3 0M550.7 682.3a3.1 3.1 0 1 0 6.3 0a3.1 3.1 0 1 0 -6.3 0M558 681.4a3.1 3.1 0 1 0 6.3 0a3.1 3.1 0 1 0 -6.3 0M556.3 688.6a3.1 3.1 0 1 0 6.3 0a3.1 3.1 0 1 0 -6.3 0M550.4 693.9a3.1 3.1 0 1 0 6.3 0a3.1 3.1 0 1 0 -6.3 0M565.9 685.7a3.1 3.1 0 1 0 6.3 0a3.1 3.1 0 1 0 -6.3 0M570 689.4a3.1 3.1 0 1 0 6.3 0a3.1 3.1 0 1 0 -6.3 0M574.4 688a3.1 3.1 0 1 0 6.3 0a3.1 3.1 0 1 0 -6.3 0M579 681.3a3.1 3.1 0 1 0 6.3 0a3.1 3.1 0 1 0 -6.3 0M580 681.7a3.1 3.1 0 1 0 6.3 0a3.1 3.1 0 1 0 -6.3 0M517.9 676.3a3.1 3.1 0 1 0 6.3 0a3.1 3.1 0 1 0 -6.3 0M521.1 677a3.1 3.1 0 1 0 6.3 0a3.1 3.1 0 1 0 -6.3 0M523.3 676a3.1 3.1 0 1 0 6.3 0a3.1 3.1 0 1 0 -6.3 0M522.6 679.9a3.1 3.1 0 1 0 6.3 0a3.1 3.1 0 1 0 -6.3 0M526.1 679.9a3.1 3.1 0 1 0 6.3 0a3.1 3.1 0 1 0 -6.3 0M614 673.9a3.1 3.1 0 1 0 6.3 0a3.1 3.1 0 1 0 -6.3 0M612.1 678.4a3.1 3.1 0 1 0 6.3 0a3.1 3.1 0 1 0 -6.3 0M616.9 683.4a3.1 3.1 0 1 0 6.3 0a3.1 3.1 0 1 0 -6.3 0M613 689.9a3.1 3.1 0 1 0 6.3 0a3.1 3.1 0 1 0 -6.3 0M616.4 694.9a3.1 3.1 0 1 0 6.3 0a3.1 3.1 0 1 0 -6.3 0M614 697.4a3.1 3.1 0 1 0 6.3 0a3.1 3.1 0 1 0 -6.3 0M625.4 693.7a3.1 3.1 0 1 0 6.3 0a3.1 3.1 0 1 0 -6.3 0M635.3 687.9a3.1 3.1 0 1 0 6.3 0a3.1 3.1 0 1 0 -6.3 0M638 693a3.1 3.1 0 1 0 6.3 0a3.1 3.1 0 1 0 -6.3 0M647.6 699.6a3.1 3.1 0 1 0 6.3 0a3.1 3.1 0 1 0 -6.3 0M588.7 696.1a3.1 3.1 0 1 0 6.3 0a3.1 3.1 0 1 0 -6.3 0M592 702.3a3.1 3.1 0 1 0 6.3 0a3.1 3.1 0 1 0 -6.3 0M590 710.1a3.1 3.1 0 1 0 6.3 0a3.1 3.1 0 1 0 -6.3 0M602.6 702.4a3.1 3.1 0 1 0 6.3 0a3.1 3.1 0 1 0 -6.3 0M601.1 705.6a3.1 3.1 0 1 0 6.3 0a3.1 3.1 0 1 0 -6.3 0M600.9 708.4a3.1 3.1 0 1 0 6.3 0a3.1 3.1 0 1 0 -6.3 0M604 709.9a3.1 3.1 0 1 0 6.3 0a3.1 3.1 0 1 0 -6.3 0M605.7 712.7a3.1 3.1 0 1 0 6.3 0a3.1 3.1 0 1 0 -6.3 0M607.6 708.4a3.1 3.1 0 1 0 6.3 0a3.1 3.1 0 1 0 -6.3 0M609.7 703.7a3.1 3.1 0 1 0 6.3 0a3.1 3.1 0 1 0 -6.3 0M610.9 707.7a3.1 3.1 0 1 0 6.3 0a3.1 3.1 0 1 0 -6.3 0M614.7 711.3a3.1 3.1 0 1 0 6.3 0a3.1 3.1 0 1 0 -6.3 0M612.6 719.1a3.1 3.1 0 1 0 6.3 0a3.1 3.1 0 1 0 -6.3 0M614.7 720.1a3.1 3.1 0 1 0 6.3 0a3.1 3.1 0 1 0 -6.3 0M628.9 710.9a3.1 3.1 0 1 0 6.3 0a3.1 3.1 0 1 0 -6.3 0M636.7 711a3.1 3.1 0 1 0 6.3 0a3.1 3.1 0 1 0 -6.3 0"/>
<path fill="#FDBF6F" d="M730.9 603.4a3.1 3.1 0 1 0 6.3 0a3.1 3.1 0 1 0 -6.3 0M745.4 608.7a3.1 3.1 0 1 0 6.3 0a3.1 3.1 0 1 0 -6.3 0M765.4 606a3.1 3.1 0 1 0 6.3 0a3.1 3.1 0 1 0 -6.3 0M761.9 608.4a3.1 3.1 0 1 0 6.3 0a3.1 3.1 0 1 0 -6.3 0M764 610.6a3.1 3.1 0 1 0 6.3 0a3.1 3.1 0 1 0 -6.3 0M761.1 613.7a3.1 3.1 0 1 0 6.3 0a3.1 3.1 0 1 0 -6.3 0M772.6 611.3a3.1 3.1 0 1 0 6.3 0a3.1 3.1 0 1 0 -6.3 0M771.1 616a3.1 3.1 0 1 0 6.3 0a3.1 3.1 0 1 0 -6.3 0M772.6 619.1a3.1 3.1 0 1 0 6.3 0a3.1 3.1 0 1 0 -6.3 0M780.9 605.1a3.1 3.1 0 1 0 6.3 0a3.1 3.1 0 1 0 -6.3 0M782.7 613.4a3.1 3.1 0 1 0 6.3 0a3.1 3.1 0 1 0 -6.3 0M760 623.4a3.1 3.1 0 1 0 6.3 0a3.1 3.1 0 1 0 -6.3 0M768.6 623.9a3.1 3.1 0 1 0 6.3 0a3.1 3.1 0 1 0 -6.3 0M734 618.1a3.1 3.1 0 1 0 6.3 0a3.1 3.1 0 1 0 -6.3 0M731.1 624.1a3.1 3.1 0 1 0 6.3 0a3.1 3.1 0 1 0 -6.3 0M738.3 625.6a3.1 3.1 0 1 0 6.3 0a3.1 3.1 0 1 0 -6.3 0M746.9 627a3.1 3.1 0 1 0 6.3 0a3.1 3.1 0 1 0 -6.3 0M749 629.9a3.1 3.1 0 1 0 6.3 0a3.1 3.1 0 1 0 -6.3 0M727.9 632.3a3.1 3.1 0 1 0 6.3 0a3.1 3.1 0 1 0 -6.3 0M716.3 621.6a3.1 3.1 0 1 0 6.3 0a3.1 3.1 0 1 0 -6.3 0M702.6 623.9a3.1 3.1 0 1 0 6.3 0a3.1 3.1 0 1 0 -6.3 0M691.1 633.7a3.1 3.1 0 1 0 6.3 0a3.1 3.1 0 1 0 -6.3 0M687.6 636a3.1 3.1 0 1 0 6.3 0a3.1 3.1 0 1 0 -6.3 0M689.7 636.3a3.1 3.1 0 1 0 6.3 0a3.1 3.1 0 1 0 -6.3 0M688.3 638.4a3.1 3.1 0 1 0 6.3 0a3.1 3.1 0 1 0 -6.3 0M708.6 645a3.1 3.1 0 1 0 6.3 0a3.1 3.1 0 1 0 -6.3 0M733 649.6a3.1 3.1 0 1 0 6.3 0a3.1 3.1 0 1 0 -6.3 0M749.1 646.6a3.1 3.1 0 1 0 6.3 0a3.1 3.1 0 1 0 -6.3 0M740.1 656.6a3.1 3.1 0 1 0 6.3 0a3.1 3.1 0 1 0 -6.3 0M719.4 654.6a3.1 3.1 0 1 0 6.3 0a3.1 3.1 0 1 0 -6.3 0M715.7 658a3.1 3.1 0 1 0 6.3 0a3.1 3.1 0 1 0 -6.3 0M670.9 658.1a3.1 3.1 0 1 0 6.3 0a3.1 3.1 0 1 0 -6.3 0M726.9 662.7a3.1 3.1 0 1 0 6.3 0a3.1 3.1 0 1 0 -6.3 0M730.4 664.9a3.1 3.1 0 1 0 6.3 0a3.1 3.1 0 1 0 -6.3 0M734.3 663.7a3.1 3.1 0 1 0 6.3 0a3.1 3.1 0 1 0 -6.3 0M733.3 667a3.1 3.1 0 1 0 6.3 0a3.1 3.1 0 1 0 -6.3 0M736.6 669.9a3.1 3.1 0 1 0 6.3 0a3.1 3.1 0 1 0 -6.3 0M715.1 667.3a3.1 3.1 0 1 0 6.3 0a3.1 3.1 0 1 0 -6.3 0M712.6 671.9a3.1 3.1 0 1 0 6.3 0a3.1 3.1 0 1 0 -6.3 0M689.4 671.6a3.1 3.1 0 1 0 6.3 0a3.1 3.1 0 1 0 -6.3 0M684.7 673a3.1 3.1 0 1 0 6.3 0a3.1 3.1 0 1 0 -6.3 0M683.3 675.6a3.1 3.1 0 1 0 6.3 0a3.1 3.1 0 1 0 -6.3 0M695.1 679.3a3.1 3.1 0 1 0 6.3 0a3.1 3.1 0 1 0 -6.3 0M700.9 680.6a3.1 3.1 0 1 0 6.3 0a3.1 3.1 0 1 0 -6.3 0M707.6 678.4a3.1 3.1 0 1 0 6.3 0a3.1 3.1 0 1 0 -6.3 0M709.7 684.9a3.1 3.1 0 1 0 6.3 0a3.1 3.1 0 1 0 -6.3 0M720.1 683.7a3.1 3.1 0 1 0 6.3 0a3.1 3.1 0 1 0 -6.3 0M717.9 685.3a3.1 3.1 0 1 0 6.3 0a3.1 3.1 0 1 0 -6.3 0M680.9 687.3a3.1 3.1 0 1 0 6.3 0a3.1 3.1 0 1 0 -6.3 0M704 692a3.1 3.1 0 1 0 6.3 0a3.1 3.1 0 1 0 -6.3 0M706.9 695.1a3.1 3.1 0 1 0 6.3 0a3.1 3.1 0 1 0 -6.3 0M716 692.3a3.1 3.1 0 1 0 6.3 0a3.1 3.1 0 1 0 -6.3 0"/>
<path fill="#1F78B4" d="M654 646.6a3.1 3.1 0 1 0 6.3 0a3.1 3.1 0 1 0 -6.3 0M652.3 648.9a3.1 3.1 0 1 0 6.3 0a3.1 3.1 0 1 0 -6.3 0M656.6 652.7a3.1 3.1 0 1 0 6.3 0a3.1 3.1 0 1 0 -6.3 0M659.7 655.6a3.1 3.1 0 1 0 6.3 0a3.1 3.1 0 1 0 -6.3 0M661.9 656.3a3.1 3.1 0 1 0 6.3 0a3.1 3.1 0 1 0 -6.3 0M658.6 658.9a3.1 3.1 0 1 0 6.3 0a3.1 3.1 0 1 0 -6.3 0M655.1 663.9a3.1 3.1 0 1 0 6.3 0a3.1 3.1 0 1 0 -6.3 0M650.9 670.9a3.1 3.1 0 1 0 6.3 0a3.1 3.1 0 1 0 -6.3 0M654 675.6a3.1 3.1 0 1 0 6.3 0a3.1 3.1 0 1 0 -6.3 0M679.7 675.3a3.1 3.1 0 1 0 6.3 0a3.1 3.1 0 1 0 -6.3 0M674 680a3.1 3.1 0 1 0 6.3 0a3.1 3.1 0 1 0 -6.3 0M671.1 687.9a3.1 3.1 0 1 0 6.3 0a3.1 3.1 0 1 0 -6.3 0M675.1 690.6a3.1 3.1 0 1 0 6.3 0a3.1 3.1 0 1 0 -6.3 0M662.9 692.6a3.1 3.1 0 1 0 6.3 0a3.1 3.1 0 1 0 -6.3 0M652.6 691.7a3.1 3.1 0 1 0 6.3 0a3.1 3.1 0 1 0 -6.3 0M654.7 694.6a3.1 3.1 0 1 0 6.3 0a3.1 3.1 0 1 0 -6.3 0"/>
<path fill="#FDBF6F" d="M732.3 480.1a3.1 3.1 0 1 0 6.3 0a3.1 3.1 0 1 0 -6.3 0M741.9 484.4a3.1 3.1 0 1 0 6.3 0a3.1 3.1 0 1 0 -6.3 0M718.3 489.7a3.1 3.1 0 1 0 6.3 0a3.1 3.1 0 1 0 -6.3 0M727.7 493.7a3.1 3.1 0 1 0 6.3 0a3.1 3.1 0 1 0 -6.3 0M736 492.3a3.1 3.1 0 1 0 6.3 0a3.1 3.1 0 1 0 -6.3 0M747 495.1a3.1 3.1 0 1 0 6.3 0a3.1 3.1 0 1 0 -6.3 0M762.7 495.7a3.1 3.1 0 1 0 6.3 0a3.1 3.1 0 1 0 -6.3 0M785 485.4a3.1 3.1 0 1 0 6.3 0a3.1 3.1 0 1 0 -6.3 0M781.1 489.7a3.1 3.1 0 1 0 6.3 0a3.1 3.1 0 1 0 -6.3 0M786.9 490.7a3.1 3.1 0 1 0 6.3 0a3.1 3.1 0 1 0 -6.3 0M778.9 495.7a3.1 3.1 0 1 0 6.3 0a3.1 3.1 0 1 0 -6.3 0M773 502.3a3.1 3.1 0 1 0 6.3 0a3.1 3.1 0 1 0 -6.3 0M765.1 504.9a3.1 3.1 0 1 0 6.3 0a3.1 3.1 0 1 0 -6.3 0M786.6 501.4a3.1 3.1 0 1 0 6.3 0a3.1 3.1 0 1 0 -6.3 0M791.4 503.1a3.1 3.1 0 1 0 6.3 0a3.1 3.1 0 1 0 -6.3 0M770.6 509.9a3.1 3.1 0 1 0 6.3 0a3.1 3.1 0 1 0 -6.3 0M788 510.9a3.1 3.1 0 1 0 6.3 0a3.1 3.1 0 1 0 -6.3 0M781.1 513.7a3.1 3.1 0 1 0 6.3 0a3.1 3.1 0 1 0 -6.3 0M780.1 516.1a3.1 3.1 0 1 0 6.3 0a3.1 3.1 0 1 0 -6.3 0M765.9 519.6a3.1 3.1 0 1 0 6.3 0a3.1 3.1 0 1 0 -6.3 0M772.6 524.3a3.1 3.1 0 1 0 6.3 0a3.1 3.1 0 1 0 -6.3 0M776.9 525a3.1 3.1 0 1 0 6.3 0a3.1 3.1 0 1 0 -6.3 0M779 524a3.1 3.1 0 1 0 6.3 0a3.1 3.1 0 1 0 -6.3 0M760.3 528.1a3.1 3.1 0 1 0 6.3 0a3.1 3.1 0 1 0 -6.3 0M704.7 520.7a3.1 3.1 0 1 0 6.3 0a3.1 3.1 0 1 0 -6.3 0M708.6 520.7a3.1 3.1 0 1 0 6.3 0a3.1 3.1 0 1 0 -6.3 0M703.3 525.4a3.1 3.1 0 1 0 6.3 0a3.1 3.1 0 1 0 -6.3 0M699.9 537a3.1 3.1 0 1 0 6.3 0a3.1 3.1 0 1 0 -6.3 0M653.6 534a3.1 3.1 0 1 0 6.3 0a3.1 3.1 0 1 0 -6.3 0M651.9 539.7a3.1 3.1 0 1 0 6.3 0a3.1 3.1 0 1 0 -6.3 0M653.6 547.6a3.1 3.1 0 1 0 6.3 0a3.1 3.1 0 1 0 -6.3 0M654.3 552.3a3.1 3.1 0 1 0 6.3 0a3.1 3.1 0 1 0 -6.3 0M691.3 549.4a3.1 3.1 0 1 0 6.3 0a3.1 3.1 0 1 0 -6.3 0M687.6 557.7a3.1 3.1 0 1 0 6.3 0a3.1 3.1 0 1 0 -6.3 0M680.9 563.3a3.1 3.1 0 1 0 6.3 0a3.1 3.1 0 1 0 -6.3 0M659.9 564.1a3.1 3.1 0 1 0 6.3 0a3.1 3.1 0 1 0 -6.3 0M650.7 569.6a3.1 3.1 0 1 0 6.3 0a3.1 3.1 0 1 0 -6.3 0M646.9 569.7a3.1 3.1 0 1 0 6.3 0a3.1 3.1 0 1 0 -6.3 0M681.9 573.1a3.1 3.1 0 1 0 6.3 0a3.1 3.1 0 1 0 -6.3 0M689.3 579.6a3.1 3.1 0 1 0 6.3 0a3.1 3.1 0 1 0 -6.3 0M652.6 579a3.1 3.1 0 1 0 6.3 0a3.1 3.1 0 1 0 -6.3 0M672.3 592.3a3.1 3.1 0 1 0 6.3 0a3.1 3.1 0 1 0 -6.3 0M716.6 569a3.1 3.1 0 1 0 6.3 0a3.1 3.1 0 1 0 -6.3 0M794.1 537.1a3.1 3.1 0 1 0 6.3 0a3.1 3.1 0 1 0 -6.3 0M804 534.9a3.1 3.1 0 1 0 6.3 0a3.1 3.1 0 1 0 -6.3 0M800.4 541.4a3.1 3.1 0 1 0 6.3 0a3.1 3.1 0 1 0 -6.3 0M784 544a3.1 3.1 0 1 0 6.3 0a3.1 3.1 0 1 0 -6.3 0M781.9 546.1a3.1 3.1 0 1 0 6.3 0a3.1 3.1 0 1 0 -6.3 0M770.4 552.3a3.1 3.1 0 1 0 6.3 0a3.1 3.1 0 1 0 -6.3 0M766.1 557.3a3.1 3.1 0 1 0 6.3 0a3.1 3.1 0 1 0 -6.3 0M774 556.1a3.1 3.1 0 1 0 6.3 0a3.1 3.1 0 1 0 -6.3 0M781.9 553.3a3.1 3.1 0 1 0 6.3 0a3.1 3.1 0 1 0 -6.3 0M781.9 557.6a3.1 3.1 0 1 0 6.3 0a3.1 3.1 0 1 0 -6.3 0M794.4 553.4a3.1 3.1 0 1 0 6.3 0a3.1 3.1 0 1 0 -6.3 0M790.9 558.7a3.1 3.1 0 1 0 6.3 0a3.1 3.1 0 1 0 -6.3 0M782.3 568.3a3.1 3.1 0 1 0 6.3 0a3.1 3.1 0 1 0 -6.3 0M771.9 571.4a3.1 3.1 0 1 0 6.3 0a3.1 3.1 0 1 0 -6.3 0M772.6 577.1a3.1 3.1 0 1 0 6.3 0a3.1 3.1 0 1 0 -6.3 0M790.9 576.9a3.1 3.1 0 1 0 6.3 0a3.1 3.1 0 1 0 -6.3 0M787.6 579.7a3.1 3.1 0 1 0 6.3 0a3.1 3.1 0 1 0 -6.3 0M786.1 581.4a3.1 3.1 0 1 0 6.3 0a3.1 3.1 0 1 0 -6.3 0M788.3 582.6a3.1 3.1 0 1 0 6.3 0a3.1 3.1 0 1 0 -6.3 0M791.7 589.4a3.1 3.1 0 1 0 6.3 0a3.1 3.1 0 1 0 -6.3 0M785 597a3.1 3.1 0 1 0 6.3 0a3.1 3.1 0 1 0 -6.3 0M758 585.9a3.1 3.1 0 1 0 6.3 0a3.1 3.1 0 1 0 -6.3 0M763.3 585.4a3.1 3.1 0 1 0 6.3 0a3.1 3.1 0 1 0 -6.3 0M766.9 586.9a3.1 3.1 0 1 0 6.3 0a3.1 3.1 0 1 0 -6.3 0M765.4 589a3.1 3.1 0 1 0 6.3 0a3.1 3.1 0 1 0 -6.3 0M757.6 591.1a3.1 3.1 0 1 0 6.3 0a3.1 3.1 0 1 0 -6.3 0M760.4 593.7a3.1 3.1 0 1 0 6.3 0a3.1 3.1 0 1 0 -6.3 0M748.6 591.9a3.1 3.1 0 1 0 6.3 0a3.1 3.1 0 1 0 -6.3 0M748.6 595.4a3.1 3.1 0 1 0 6.3 0a3.1 3.1 0 1 0 -6.3 0M730.9 601.1a3.1 3.1 0 1 0 6.3 0a3.1 3.1 0 1 0 -6.3 0"/>
<path fill="#FB9A99" d="M694.3 481.9a3.1 3.1 0 1 0 6.3 0a3.1 3.1 0 1 0 -6.3 0"/>
<path fill="#FF7F00" d="M816.9 482.6a3.1 3.1 0 1 0 6.3 0a3.1 3.1 0 1 0 -6.3 0"/>
<path fill="#E31A1C" d="M840.6 494a3.1 3.1 0 1 0 6.3 0a3.1 3.1 0 1 0 -6.3 0M848.6 494.4a3.1 3.1 0 1 0 6.3 0a3.1 3.1 0 1 0 -6.3 0M834.6 509.3a3.1 3.1 0 1 0 6.3 0a3.1 3.1 0 1 0 -6.3 0M846.1 505.1a3.1 3.1 0 1 0 6.3 0a3.1 3.1 0 1 0 -6.3 0"/>
<path fill="#FF7F00" d="M763.7 440a3.1 3.1 0 1 0 6.3 0a3.1 3.1 0 1 0 -6.3 0"/>
<path fill="#FDBF6F" d="M734 382.4a3.1 3.1 0 1 0 6.3 0a3.1 3.1 0 1 0 -6.3 0M716.4 392.9a3.1 3.1 0 1 0 6.3 0a3.1 3.1 0 1 0 -6.3 0M720.7 410a3.1 3.1 0 1 0 6.3 0a3.1 3.1 0 1 0 -6.3 0M706.1 419.3a3.1 3.1 0 1 0 6.3 0a3.1 3.1 0 1 0 -6.3 0M733.6 418.4a3.1 3.1 0 1 0 6.3 0a3.1 3.1 0 1 0 -6.3 0M734.7 424.4a3.1 3.1 0 1 0 6.3 0a3.1 3.1 0 1 0 -6.3 0M727 428.6a3.1 3.1 0 1 0 6.3 0a3.1 3.1 0 1 0 -6.3 0M818.3 436.4a3.1 3.1 0 1 0 6.3 0a3.1 3.1 0 1 0 -6.3 0M772.6 438.9a3.1 3.1 0 1 0 6.3 0a3.1 3.1 0 1 0 -6.3 0M771.9 442.4a3.1 3.1 0 1 0 6.3 0a3.1 3.1 0 1 0 -6.3 0M790.4 444a3.1 3.1 0 1 0 6.3 0a3.1 3.1 0 1 0 -6.3 0M786.9 447.7a3.1 3.1 0 1 0 6.3 0a3.1 3.1 0 1 0 -6.3 0M744.4 450.7a3.1 3.1 0 1 0 6.3 0a3.1 3.1 0 1 0 -6.3 0M754.3 453.9a3.1 3.1 0 1 0 6.3 0a3.1 3.1 0 1 0 -6.3 0M757.6 452a3.1 3.1 0 1 0 6.3 0a3.1 3.1 0 1 0 -6.3 0M739.7 460.6a3.1 3.1 0 1 0 6.3 0a3.1 3.1 0 1 0 -6.3 0M795.1 455.7a3.1 3.1 0 1 0 6.3 0a3.1 3.1 0 1 0 -6.3 0M770.9 468.9a3.1 3.1 0 1 0 6.3 0a3.1 3.1 0 1 0 -6.3 0M774 471.4a3.1 3.1 0 1 0 6.3 0a3.1 3.1 0 1 0 -6.3 0M778 470.3a3.1 3.1 0 1 0 6.3 0a3.1 3.1 0 1 0 -6.3 0M778.3 475.7a3.1 3.1 0 1 0 6.3 0a3.1 3.1 0 1 0 -6.3 0M764 474.9a3.1 3.1 0 1 0 6.3 0a3.1 3.1 0 1 0 -6.3 0M732.6 476.4a3.1 3.1 0 1 0 6.3 0a3.1 3.1 0 1 0 -6.3 0"/>
<path fill="#B2DF8A" d="M748 360.3a3.1 3.1 0 1 0 6.3 0a3.1 3.1 0 1 0 -6.3 0M757.6 359.9a3.1 3.1 0 1 0 6.3 0a3.1 3.1 0 1 0 -6.3 0M762.6 356.7a3.1 3.1 0 1 0 6.3 0a3.1 3.1 0 1 0 -6.3 0M775.4 362a3.1 3.1 0 1 0 6.3 0a3.1 3.1 0 1 0 -6.3 0M759.7 365.3a3.1 3.1 0 1 0 6.3 0a3.1 3.1 0 1 0 -6.3 0M762.9 367.1a3.1 3.1 0 1 0 6.3 0a3.1 3.1 0 1 0 -6.3 0M765.9 370a3.1 3.1 0 1 0 6.3 0a3.1 3.1 0 1 0 -6.3 0M745.1 371.7a3.1 3.1 0 1 0 6.3 0a3.1 3.1 0 1 0 -6.3 0M746.6 378.1a3.1 3.1 0 1 0 6.3 0a3.1 3.1 0 1 0 -6.3 0M785.9 369.9a3.1 3.1 0 1 0 6.3 0a3.1 3.1 0 1 0 -6.3 0M778 376a3.1 3.1 0 1 0 6.3 0a3.1 3.1 0 1 0 -6.3 0M780.6 383.1a3.1 3.1 0 1 0 6.3 0a3.1 3.1 0 1 0 -6.3 0M774.4 390.6a3.1 3.1 0 1 0 6.3 0a3.1 3.1 0 1 0 -6.3 0M754.3 394.3a3.1 3.1 0 1 0 6.3 0a3.1 3.1 0 1 0 -6.3 0M762.1 393.4a3.1 3.1 0 1 0 6.3 0a3.1 3.1 0 1 0 -6.3 0M764.3 397a3.1 3.1 0 1 0 6.3 0a3.1 3.1 0 1 0 -6.3 0M769.7 398.7a3.1 3.1 0 1 0 6.3 0a3.1 3.1 0 1 0 -6.3 0M776.4 399.3a3.1 3.1 0 1 0 6.3 0a3.1 3.1 0 1 0 -6.3 0M761.9 403.9a3.1 3.1 0 1 0 6.3 0a3.1 3.1 0 1 0 -6.3 0M777.1 406.3a3.1 3.1 0 1 0 6.3 0a3.1 3.1 0 1 0 -6.3 0M794 403.1a3.1 3.1 0 1 0 6.3 0a3.1 3.1 0 1 0 -6.3 0M762.6 415.3a3.1 3.1 0 1 0 6.3 0a3.1 3.1 0 1 0 -6.3 0M767.1 417a3.1 3.1 0 1 0 6.3 0a3.1 3.1 0 1 0 -6.3 0M758.7 419.9a3.1 3.1 0 1 0 6.3 0a3.1 3.1 0 1 0 -6.3 0M768.7 423.6a3.1 3.1 0 1 0 6.3 0a3.1 3.1 0 1 0 -6.3 0M755.1 425.3a3.1 3.1 0 1 0 6.3 0a3.1 3.1 0 1 0 -6.3 0M780 417.7a3.1 3.1 0 1 0 6.3 0a3.1 3.1 0 1 0 -6.3 0M778.3 422.7a3.1 3.1 0 1 0 6.3 0a3.1 3.1 0 1 0 -6.3 0M783.3 423.9a3.1 3.1 0 1 0 6.3 0a3.1 3.1 0 1 0 -6.3 0M786.9 427.7a3.1 3.1 0 1 0 6.3 0a3.1 3.1 0 1 0 -6.3 0M770 430.7a3.1 3.1 0 1 0 6.3 0a3.1 3.1 0 1 0 -6.3 0M766.9 436.4a3.1 3.1 0 1 0 6.3 0a3.1 3.1 0 1 0 -6.3 0M763.3 442a3.1 3.1 0 1 0 6.3 0a3.1 3.1 0 1 0 -6.3 0M762.9 450.3a3.1 3.1 0 1 0 6.3 0a3.1 3.1 0 1 0 -6.3 0M783.7 446.3a3.1 3.1 0 1 0 6.3 0a3.1 3.1 0 1 0 -6.3 0M782.3 449.6a3.1 3.1 0 1 0 6.3 0a3.1 3.1 0 1 0 -6.3 0"/>
<path fill="#FB9A99" d="M678.3 367.4a3.1 3.1 0 1 0 6.3 0a3.1 3.1 0 1 0 -6.3 0M711.1 371.7a3.1 3.1 0 1 0 6.3 0a3.1 3.1 0 1 0 -6.3 0M716.9 379.1a3.1 3.1 0 1 0 6.3 0a3.1 3.1 0 1 0 -6.3 0M701.1 389.1a3.1 3.1 0 1 0 6.3 0a3.1 3.1 0 1 0 -6.3 0M703.3 387.4a3.1 3.1 0 1 0 6.3 0a3.1 3.1 0 1 0 -6.3 0M687.3 396a3.1 3.1 0 1 0 6.3 0a3.1 3.1 0 1 0 -6.3 0M691.9 397.4a3.1 3.1 0 1 0 6.3 0a3.1 3.1 0 1 0 -6.3 0M697.9 399.3a3.1 3.1 0 1 0 6.3 0a3.1 3.1 0 1 0 -6.3 0M685.4 409.6a3.1 3.1 0 1 0 6.3 0a3.1 3.1 0 1 0 -6.3 0M688.7 413.6a3.1 3.1 0 1 0 6.3 0a3.1 3.1 0 1 0 -6.3 0M697.6 414.3a3.1 3.1 0 1 0 6.3 0a3.1 3.1 0 1 0 -6.3 0M698.6 421a3.1 3.1 0 1 0 6.3 0a3.1 3.1 0 1 0 -6.3 0M679.3 430a3.1 3.1 0 1 0 6.3 0a3.1 3.1 0 1 0 -6.3 0M684.9 429.9a3.1 3.1 0 1 0 6.3 0a3.1 3.1 0 1 0 -6.3 0M672.1 445.3a3.1 3.1 0 1 0 6.3 0a3.1 3.1 0 1 0 -6.3 0M673.6 450.3a3.1 3.1 0 1 0 6.3 0a3.1 3.1 0 1 0 -6.3 0M661.7 454.6a3.1 3.1 0 1 0 6.3 0a3.1 3.1 0 1 0 -6.3 0M663.6 458.9a3.1 3.1 0 1 0 6.3 0a3.1 3.1 0 1 0 -6.3 0M674.4 462.1a3.1 3.1 0 1 0 6.3 0a3.1 3.1 0 1 0 -6.3 0M673 469.6a3.1 3.1 0 1 0 6.3 0a3.1 3.1 0 1 0 -6.3 0"/>
<path fill="#FF7F00" d="M732.1 377.7a3.1 3.1 0 1 0 6.3 0a3.1 3.1 0 1 0 -6.3 0M738.4 373.9a3.1 3.1 0 1 0 6.3 0a3.1 3.1 0 1 0 -6.3 0M752.1 374.6a3.1 3.1 0 1 0 6.3 0a3.1 3.1 0 1 0 -6.3 0M765.4 358.6a3.1 3.1 0 1 0 6.3 0a3.1 3.1 0 1 0 -6.3 0M771.4 360.7a3.1 3.1 0 1 0 6.3 0a3.1 3.1 0 1 0 -6.3 0M784 358.1a3.1 3.1 0 1 0 6.3 0a3.1 3.1 0 1 0 -6.3 0M786.1 359.6a3.1 3.1 0 1 0 6.3 0a3.1 3.1 0 1 0 -6.3 0M802.1 362a3.1 3.1 0 1 0 6.3 0a3.1 3.1 0 1 0 -6.3 0M814.3 358.9a3.1 3.1 0 1 0 6.3 0a3.1 3.1 0 1 0 -6.3 0M822.6 358.4a3.1 3.1 0 1 0 6.3 0a3.1 3.1 0 1 0 -6.3 0M827.4 363.9a3.1 3.1 0 1 0 6.3 0a3.1 3.1 0 1 0 -6.3 0M839.9 361.3a3.1 3.1 0 1 0 6.3 0a3.1 3.1 0 1 0 -6.3 0M812.3 372.7a3.1 3.1 0 1 0 6.3 0a3.1 3.1 0 1 0 -6.3 0M820.7 372.1a3.1 3.1 0 1 0 6.3 0a3.1 3.1 0 1 0 -6.3 0M805.1 378.7a3.1 3.1 0 1 0 6.3 0a3.1 3.1 0 1 0 -6.3 0M800.4 385.3a3.1 3.1 0 1 0 6.3 0a3.1 3.1 0 1 0 -6.3 0M816.4 383.4a3.1 3.1 0 1 0 6.3 0a3.1 3.1 0 1 0 -6.3 0M814.7 389.9a3.1 3.1 0 1 0 6.3 0a3.1 3.1 0 1 0 -6.3 0M818.7 389.1a3.1 3.1 0 1 0 6.3 0a3.1 3.1 0 1 0 -6.3 0M817.6 396.7a3.1 3.1 0 1 0 6.3 0a3.1 3.1 0 1 0 -6.3 0M837.9 382.1a3.1 3.1 0 1 0 6.3 0a3.1 3.1 0 1 0 -6.3 0M824.9 409.1a3.1 3.1 0 1 0 6.3 0a3.1 3.1 0 1 0 -6.3 0M795.7 411a3.1 3.1 0 1 0 6.3 0a3.1 3.1 0 1 0 -6.3 0M831.3 419.9a3.1 3.1 0 1 0 6.3 0a3.1 3.1 0 1 0 -6.3 0M830.7 438.9a3.1 3.1 0 1 0 6.3 0a3.1 3.1 0 1 0 -6.3 0M820.4 442.7a3.1 3.1 0 1 0 6.3 0a3.1 3.1 0 1 0 -6.3 0M815.9 451.4a3.1 3.1 0 1 0 6.3 0a3.1 3.1 0 1 0 -6.3 0M815.4 455.3a3.1 3.1 0 1 0 6.3 0a3.1 3.1 0 1 0 -6.3 0M819.3 458.9a3.1 3.1 0 1 0 6.3 0a3.1 3.1 0 1 0 -6.3 0M823.7 457.7a3.1 3.1 0 1 0 6.3 0a3.1 3.1 0 1 0 -6.3 0M811.4 474.6a3.1 3.1 0 1 0 6.3 0a3.1 3.1 0 1 0 -6.3 0M818.6 473.1a3.1 3.1 0 1 0 6.3 0a3.1 3.1 0 1 0 -6.3 0"/>
<path fill="#B2DF8A" d="M701.6 235.9a3.1 3.1 0 1 0 6.3 0a3.1 3.1 0 1 0 -6.3 0M710.1 238a3.1 3.1 0 1 0 6.3 0a3.1 3.1 0 1 0 -6.3 0M719.9 239.7a3.1 3.1 0 1 0 6.3 0a3.1 3.1 0 1 0 -6.3 0M739.7 237.7a3.1 3.1 0 1 0 6.3 0a3.1 3.1 0 1 0 -6.3 0M743.7 243.3a3.1 3.1 0 1 0 6.3 0a3.1 3.1 0 1 0 -6.3 0M716.1 256.6a3.1 3.1 0 1 0 6.3 0a3.1 3.1 0 1 0 -6.3 0M754.9 262.7a3.1 3.1 0 1 0 6.3 0a3.1 3.1 0 1 0 -6.3 0M748.7 267a3.1 3.1 0 1 0 6.3 0a3.1 3.1 0 1 0 -6.3 0M750.7 272.6a3.1 3.1 0 1 0 6.3 0a3.1 3.1 0 1 0 -6.3 0M741.1 268.7a3.1 3.1 0 1 0 6.3 0a3.1 3.1 0 1 0 -6.3 0M715 275.7a3.1 3.1 0 1 0 6.3 0a3.1 3.1 0 1 0 -6.3 0M736.1 283a3.1 3.1 0 1 0 6.3 0a3.1 3.1 0 1 0 -6.3 0M739.4 283.7a3.1 3.1 0 1 0 6.3 0a3.1 3.1 0 1 0 -6.3 0M742.3 281.1a3.1 3.1 0 1 0 6.3 0a3.1 3.1 0 1 0 -6.3 0M728.1 289.3a3.1 3.1 0 1 0 6.3 0a3.1 3.1 0 1 0 -6.3 0M785.7 281.3a3.1 3.1 0 1 0 6.3 0a3.1 3.1 0 1 0 -6.3 0M759.7 292.3a3.1 3.1 0 1 0 6.3 0a3.1 3.1 0 1 0 -6.3 0M768 290.9a3.1 3.1 0 1 0 6.3 0a3.1 3.1 0 1 0 -6.3 0M756.1 295.9a3.1 3.1 0 1 0 6.3 0a3.1 3.1 0 1 0 -6.3 0M772.3 296.3a3.1 3.1 0 1 0 6.3 0a3.1 3.1 0 1 0 -6.3 0M769 299.4a3.1 3.1 0 1 0 6.3 0a3.1 3.1 0 1 0 -6.3 0M767.6 303a3.1 3.1 0 1 0 6.3 0a3.1 3.1 0 1 0 -6.3 0M744.3 299.1a3.1 3.1 0 1 0 6.3 0a3.1 3.1 0 1 0 -6.3 0M754.3 303.7a3.1 3.1 0 1 0 6.3 0a3.1 3.1 0 1 0 -6.3 0M751.1 306.6a3.1 3.1 0 1 0 6.3 0a3.1 3.1 0 1 0 -6.3 0M774.4 307.6a3.1 3.1 0 1 0 6.3 0a3.1 3.1 0 1 0 -6.3 0M802.3 306.6a3.1 3.1 0 1 0 6.3 0a3.1 3.1 0 1 0 -6.3 0M736.9 316.9a3.1 3.1 0 1 0 6.3 0a3.1 3.1 0 1 0 -6.3 0M746.4 315.9a3.1 3.1 0 1 0 6.3 0a3.1 3.1 0 1 0 -6.3 0M746.6 319.1a3.1 3.1 0 1 0 6.3 0a3.1 3.1 0 1 0 -6.3 0M753.7 319a3.1 3.1 0 1 0 6.3 0a3.1 3.1 0 1 0 -6.3 0M767.3 317.3a3.1 3.1 0 1 0 6.3 0a3.1 3.1 0 1 0 -6.3 0M774.7 315.4a3.1 3.1 0 1 0 6.3 0a3.1 3.1 0 1 0 -6.3 0M774.4 320.9a3.1 3.1 0 1 0 6.3 0a3.1 3.1 0 1 0 -6.3 0M747.3 327.7a3.1 3.1 0 1 0 6.3 0a3.1 3.1 0 1 0 -6.3 0M756.9 329a3.1 3.1 0 1 0 6.3 0a3.1 3.1 0 1 0 -6.3 0M754.7 331.3a3.1 3.1 0 1 0 6.3 0a3.1 3.1 0 1 0 -6.3 0M735.7 333.4a3.1 3.1 0 1 0 6.3 0a3.1 3.1 0 1 0 -6.3 0M727.3 338a3.1 3.1 0 1 0 6.3 0a3.1 3.1 0 1 0 -6.3 0M752.6 335.9a3.1 3.1 0 1 0 6.3 0a3.1 3.1 0 1 0 -6.3 0M751.9 340.1a3.1 3.1 0 1 0 6.3 0a3.1 3.1 0 1 0 -6.3 0M756.1 343a3.1 3.1 0 1 0 6.3 0a3.1 3.1 0 1 0 -6.3 0M754 345.9a3.1 3.1 0 1 0 6.3 0a3.1 3.1 0 1 0 -6.3 0M764.4 337.7a3.1 3.1 0 1 0 6.3 0a3.1 3.1 0 1 0 -6.3 0M771.1 334.4a3.1 3.1 0 1 0 6.3 0a3.1 3.1 0 1 0 -6.3 0M773.3 337.3a3.1 3.1 0 1 0 6.3 0a3.1 3.1 0 1 0 -6.3 0M783.7 342.3a3.1 3.1 0 1 0 6.3 0a3.1 3.1 0 1 0 -6.3 0M736.9 342.7a3.1 3.1 0 1 0 6.3 0a3.1 3.1 0 1 0 -6.3 0M738.4 352.7a3.1 3.1 0 1 0 6.3 0a3.1 3.1 0 1 0 -6.3 0M762.6 352.3a3.1 3.1 0 1 0 6.3 0a3.1 3.1 0 1 0 -6.3 0M791.6 353a3.1 3.1 0 1 0 6.3 0a3.1 3.1 0 1 0 -6.3 0"/>
<path fill="#FB9A99" d="M767.3 245a3.1 3.1 0 1 0 6.3 0a3.1 3.1 0 1 0 -6.3 0M731.4 312.3a3.1 3.1 0 1 0 6.3 0a3.1 3.1 0 1 0 -6.3 0M720.7 316.9a3.1 3.1 0 1 0 6.3 0a3.1 3.1 0 1 0 -6.3 0M710.9 317.7a3.1 3.1 0 1 0 6.3 0a3.1 3.1 0 1 0 -6.3 0M724.7 322.7a3.1 3.1 0 1 0 6.3 0a3.1 3.1 0 1 0 -6.3 0M700.7 327.3a3.1 3.1 0 1 0 6.3 0a3.1 3.1 0 1 0 -6.3 0M689.7 333a3.1 3.1 0 1 0 6.3 0a3.1 3.1 0 1 0 -6.3 0M695.9 337.7a3.1 3.1 0 1 0 6.3 0a3.1 3.1 0 1 0 -6.3 0M701.9 340.9a3.1 3.1 0 1 0 6.3 0a3.1 3.1 0 1 0 -6.3 0M705 343.7a3.1 3.1 0 1 0 6.3 0a3.1 3.1 0 1 0 -6.3 0M688 342.6a3.1 3.1 0 1 0 6.3 0a3.1 3.1 0 1 0 -6.3 0M689 347.3a3.1 3.1 0 1 0 6.3 0a3.1 3.1 0 1 0 -6.3 0M685.4 349.7a3.1 3.1 0 1 0 6.3 0a3.1 3.1 0 1 0 -6.3 0M697.7 347.7a3.1 3.1 0 1 0 6.3 0a3.1 3.1 0 1 0 -6.3 0M714 348a3.1 3.1 0 1 0 6.3 0a3.1 3.1 0 1 0 -6.3 0M733 335.9a3.1 3.1 0 1 0 6.3 0a3.1 3.1 0 1 0 -6.3 0"/>
<path fill="#FF7F00" d="M810.1 233.7a3.1 3.1 0 1 0 6.3 0a3.1 3.1 0 1 0 -6.3 0M829.7 234.1a3.1 3.1 0 1 0 6.3 0a3.1 3.1 0 1 0 -6.3 0M846.1 237.3a3.1 3.1 0 1 0 6.3 0a3.1 3.1 0 1 0 -6.3 0M811.4 242.6a3.1 3.1 0 1 0 6.3 0a3.1 3.1 0 1 0 -6.3 0M820.3 240.9a3.1 3.1 0 1 0 6.3 0a3.1 3.1 0 1 0 -6.3 0M838.6 243.7a3.1 3.1 0 1 0 6.3 0a3.1 3.1 0 1 0 -6.3 0M827.9 247.7a3.1 3.1 0 1 0 6.3 0a3.1 3.1 0 1 0 -6.3 0M804.3 250.9a3.1 3.1 0 1 0 6.3 0a3.1 3.1 0 1 0 -6.3 0M816.6 253.1a3.1 3.1 0 1 0 6.3 0a3.1 3.1 0 1 0 -6.3 0M810.3 261.1a3.1 3.1 0 1 0 6.3 0a3.1 3.1 0 1 0 -6.3 0M817.1 266.6a3.1 3.1 0 1 0 6.3 0a3.1 3.1 0 1 0 -6.3 0M827.7 272.3a3.1 3.1 0 1 0 6.3 0a3.1 3.1 0 1 0 -6.3 0M803 279.7a3.1 3.1 0 1 0 6.3 0a3.1 3.1 0 1 0 -6.3 0M820.4 278.7a3.1 3.1 0 1 0 6.3 0a3.1 3.1 0 1 0 -6.3 0M829 282a3.1 3.1 0 1 0 6.3 0a3.1 3.1 0 1 0 -6.3 0M836.4 285a3.1 3.1 0 1 0 6.3 0a3.1 3.1 0 1 0 -6.3 0M799.3 284.9a3.1 3.1 0 1 0 6.3 0a3.1 3.1 0 1 0 -6.3 0M800.4 295.4a3.1 3.1 0 1 0 6.3 0a3.1 3.1 0 1 0 -6.3 0M832.6 303a3.1 3.1 0 1 0 6.3 0a3.1 3.1 0 1 0 -6.3 0M828.3 308.3a3.1 3.1 0 1 0 6.3 0a3.1 3.1 0 1 0 -6.3 0M825.4 310.1a3.1 3.1 0 1 0 6.3 0a3.1 3.1 0 1 0 -6.3 0M815.4 310.1a3.1 3.1 0 1 0 6.3 0a3.1 3.1 0 1 0 -6.3 0M799.7 310.1a3.1 3.1 0 1 0 6.3 0a3.1 3.1 0 1 0 -6.3 0M804.4 311.9a3.1 3.1 0 1 0 6.3 0a3.1 3.1 0 1 0 -6.3 0M801.6 316.9a3.1 3.1 0 1 0 6.3 0a3.1 3.1 0 1 0 -6.3 0M781.9 312.3a3.1 3.1 0 1 0 6.3 0a3.1 3.1 0 1 0 -6.3 0M786.9 315.6a3.1 3.1 0 1 0 6.3 0a3.1 3.1 0 1 0 -6.3 0M793.7 319.4a3.1 3.1 0 1 0 6.3 0a3.1 3.1 0 1 0 -6.3 0M791.3 326.4a3.1 3.1 0 1 0 6.3 0a3.1 3.1 0 1 0 -6.3 0M811.1 326.4a3.1 3.1 0 1 0 6.3 0a3.1 3.1 0 1 0 -6.3 0M817.6 325.6a3.1 3.1 0 1 0 6.3 0a3.1 3.1 0 1 0 -6.3 0M830.7 331.3a3.1 3.1 0 1 0 6.3 0a3.1 3.1 0 1 0 -6.3 0M829.3 336.6a3.1 3.1 0 1 0 6.3 0a3.1 3.1 0 1 0 -6.3 0M815.6 339.3a3.1 3.1 0 1 0 6.3 0a3.1 3.1 0 1 0 -6.3 0M792.6 338.7a3.1 3.1 0 1 0 6.3 0a3.1 3.1 0 1 0 -6.3 0M797.6 340.1a3.1 3.1 0 1 0 6.3 0a3.1 3.1 0 1 0 -6.3 0M793 345.4a3.1 3.1 0 1 0 6.3 0a3.1 3.1 0 1 0 -6.3 0M784.7 347a3.1 3.1 0 1 0 6.3 0a3.1 3.1 0 1 0 -6.3 0M805.1 347.1a3.1 3.1 0 1 0 6.3 0a3.1 3.1 0 1 0 -6.3 0M739.9 343a3.1 3.1 0 1 0 6.3 0a3.1 3.1 0 1 0 -6.3 0M759 355.1a3.1 3.1 0 1 0 6.3 0a3.1 3.1 0 1 0 -6.3 0M785.4 355.1a3.1 3.1 0 1 0 6.3 0a3.1 3.1 0 1 0 -6.3 0"/>
<path fill="#B2DF8A" d="M677.1 101a3.1 3.1 0 1 0 6.3 0a3.1 3.1 0 1 0 -6.3 0M682.2 108.3a3.1 3.1 0 1 0 6.3 0a3.1 3.1 0 1 0 -6.3 0M680.4 112.7a3.1 3.1 0 1 0 6.3 0a3.1 3.1 0 1 0 -6.3 0M690.3 110.4a3.1 3.1 0 1 0 6.3 0a3.1 3.1 0 1 0 -6.3 0M673.5 119.8a3.1 3.1 0 1 0 6.3 0a3.1 3.1 0 1 0 -6.3 0M683.1 122.4a3.1 3.1 0 1 0 6.3 0a3.1 3.1 0 1 0 -6.3 0M686.1 123.6a3.1 3.1 0 1 0 6.3 0a3.1 3.1 0 1 0 -6.3 0M682.2 124.5a3.1 3.1 0 1 0 6.3 0a3.1 3.1 0 1 0 -6.3 0M669.3 125.9a3.1 3.1 0 1 0 6.3 0a3.1 3.1 0 1 0 -6.3 0M669.8 128.6a3.1 3.1 0 1 0 6.3 0a3.1 3.1 0 1 0 -6.3 0M675.8 126.3a3.1 3.1 0 1 0 6.3 0a3.1 3.1 0 1 0 -6.3 0M691 131.2a3.1 3.1 0 1 0 6.3 0a3.1 3.1 0 1 0 -6.3 0M671.4 136.5a3.1 3.1 0 1 0 6.3 0a3.1 3.1 0 1 0 -6.3 0M678.5 137.1a3.1 3.1 0 1 0 6.3 0a3.1 3.1 0 1 0 -6.3 0M686.4 137.1a3.1 3.1 0 1 0 6.3 0a3.1 3.1 0 1 0 -6.3 0M699 141a3.1 3.1 0 1 0 6.3 0a3.1 3.1 0 1 0 -6.3 0M703 139.7a3.1 3.1 0 1 0 6.3 0a3.1 3.1 0 1 0 -6.3 0M704.3 141a3.1 3.1 0 1 0 6.3 0a3.1 3.1 0 1 0 -6.3 0M678.8 143.6a3.1 3.1 0 1 0 6.3 0a3.1 3.1 0 1 0 -6.3 0M679.2 147.1a3.1 3.1 0 1 0 6.3 0a3.1 3.1 0 1 0 -6.3 0M686.8 145.2a3.1 3.1 0 1 0 6.3 0a3.1 3.1 0 1 0 -6.3 0M668.1 147.5a3.1 3.1 0 1 0 6.3 0a3.1 3.1 0 1 0 -6.3 0M669.8 150.1a3.1 3.1 0 1 0 6.3 0a3.1 3.1 0 1 0 -6.3 0M697.9 157.4a3.1 3.1 0 1 0 6.3 0a3.1 3.1 0 1 0 -6.3 0M665.2 164.3a3.1 3.1 0 1 0 6.3 0a3.1 3.1 0 1 0 -6.3 0M708.7 160.4a3.1 3.1 0 1 0 6.3 0a3.1 3.1 0 1 0 -6.3 0M709.9 163a3.1 3.1 0 1 0 6.3 0a3.1 3.1 0 1 0 -6.3 0M706.9 167.1a3.1 3.1 0 1 0 6.3 0a3.1 3.1 0 1 0 -6.3 0M694.2 168a3.1 3.1 0 1 0 6.3 0a3.1 3.1 0 1 0 -6.3 0M683.4 169.8a3.1 3.1 0 1 0 6.3 0a3.1 3.1 0 1 0 -6.3 0M683.1 172.4a3.1 3.1 0 1 0 6.3 0a3.1 3.1 0 1 0 -6.3 0M687 175.1a3.1 3.1 0 1 0 6.3 0a3.1 3.1 0 1 0 -6.3 0M674.6 174.7a3.1 3.1 0 1 0 6.3 0a3.1 3.1 0 1 0 -6.3 0M668.4 180.2a3.1 3.1 0 1 0 6.3 0a3.1 3.1 0 1 0 -6.3 0M693.8 179.8a3.1 3.1 0 1 0 6.3 0a3.1 3.1 0 1 0 -6.3 0M680.4 183a3.1 3.1 0 1 0 6.3 0a3.1 3.1 0 1 0 -6.3 0M681.3 187.4a3.1 3.1 0 1 0 6.3 0a3.1 3.1 0 1 0 -6.3 0M715.4 166.6a3.1 3.1 0 1 0 6.3 0a3.1 3.1 0 1 0 -6.3 0M714 168.3a3.1 3.1 0 1 0 6.3 0a3.1 3.1 0 1 0 -6.3 0M723.2 166a3.1 3.1 0 1 0 6.3 0a3.1 3.1 0 1 0 -6.3 0M721.1 171a3.1 3.1 0 1 0 6.3 0a3.1 3.1 0 1 0 -6.3 0M712.8 174.2a3.1 3.1 0 1 0 6.3 0a3.1 3.1 0 1 0 -6.3 0M706 175.4a3.1 3.1 0 1 0 6.3 0a3.1 3.1 0 1 0 -6.3 0M728.1 175.1a3.1 3.1 0 1 0 6.3 0a3.1 3.1 0 1 0 -6.3 0M711.9 180.4a3.1 3.1 0 1 0 6.3 0a3.1 3.1 0 1 0 -6.3 0M725.8 183.9a3.1 3.1 0 1 0 6.3 0a3.1 3.1 0 1 0 -6.3 0M708.7 185.5a3.1 3.1 0 1 0 6.3 0a3.1 3.1 0 1 0 -6.3 0M706.9 187.4a3.1 3.1 0 1 0 6.3 0a3.1 3.1 0 1 0 -6.3 0M709 190.8a3.1 3.1 0 1 0 6.3 0a3.1 3.1 0 1 0 -6.3 0M716.6 189.2a3.1 3.1 0 1 0 6.3 0a3.1 3.1 0 1 0 -6.3 0M721.1 189.9a3.1 3.1 0 1 0 6.3 0a3.1 3.1 0 1 0 -6.3 0M718.9 193.1a3.1 3.1 0 1 0 6.3 0a3.1 3.1 0 1 0 -6.3 0M718.4 195.7a3.1 3.1 0 1 0 6.3 0a3.1 3.1 0 1 0 -6.3 0M729.7 190.8a3.1 3.1 0 1 0 6.3 0a3.1 3.1 0 1 0 -6.3 0M735.7 196.4a3.1 3.1 0 1 0 6.3 0a3.1 3.1 0 1 0 -6.3 0M702 193.4a3.1 3.1 0 1 0 6.3 0a3.1 3.1 0 1 0 -6.3 0M703.7 196.6a3.1 3.1 0 1 0 6.3 0a3.1 3.1 0 1 0 -6.3 0M702.5 200.1a3.1 3.1 0 1 0 6.3 0a3.1 3.1 0 1 0 -6.3 0M699.9 202.8a3.1 3.1 0 1 0 6.3 0a3.1 3.1 0 1 0 -6.3 0M694.9 202.3a3.1 3.1 0 1 0 6.3 0a3.1 3.1 0 1 0 -6.3 0M699 204.2a3.1 3.1 0 1 0 6.3 0a3.1 3.1 0 1 0 -6.3 0M715.8 200.7a3.1 3.1 0 1 0 6.3 0a3.1 3.1 0 1 0 -6.3 0M714 205.4a3.1 3.1 0 1 0 6.3 0a3.1 3.1 0 1 0 -6.3 0M709.6 206.3a3.1 3.1 0 1 0 6.3 0a3.1 3.1 0 1 0 -6.3 0M729.5 206.7a3.1 3.1 0 1 0 6.3 0a3.1 3.1 0 1 0 -6.3 0M711 213a3.1 3.1 0 1 0 6.3 0a3.1 3.1 0 1 0 -6.3 0M717.9 213.9a3.1 3.1 0 1 0 6.3 0a3.1 3.1 0 1 0 -6.3 0M716.6 216a3.1 3.1 0 1 0 6.3 0a3.1 3.1 0 1 0 -6.3 0M699.1 215.7a3.1 3.1 0 1 0 6.3 0a3.1 3.1 0 1 0 -6.3 0M690.7 220.3a3.1 3.1 0 1 0 6.3 0a3.1 3.1 0 1 0 -6.3 0M740.1 215.5a3.1 3.1 0 1 0 6.3 0a3.1 3.1 0 1 0 -6.3 0M757.1 215.2a3.1 3.1 0 1 0 6.3 0a3.1 3.1 0 1 0 -6.3 0M700.6 227.9a3.1 3.1 0 1 0 6.3 0a3.1 3.1 0 1 0 -6.3 0M710.8 226.3a3.1 3.1 0 1 0 6.3 0a3.1 3.1 0 1 0 -6.3 0M722.8 224.3a3.1 3.1 0 1 0 6.3 0a3.1 3.1 0 1 0 -6.3 0M718.4 229.8a3.1 3.1 0 1 0 6.3 0a3.1 3.1 0 1 0 -6.3 0"/>
<path fill="#FF7F00" d="M835.2 164.6a3.1 3.1 0 1 0 6.3 0a3.1 3.1 0 1 0 -6.3 0M820.9 175.2a3.1 3.1 0 1 0 6.3 0a3.1 3.1 0 1 0 -6.3 0M830.9 173.6a3.1 3.1 0 1 0 6.3 0a3.1 3.1 0 1 0 -6.3 0M832.4 176.3a3.1 3.1 0 1 0 6.3 0a3.1 3.1 0 1 0 -6.3 0M828.8 178.9a3.1 3.1 0 1 0 6.3 0a3.1 3.1 0 1 0 -6.3 0M826.7 181.6a3.1 3.1 0 1 0 6.3 0a3.1 3.1 0 1 0 -6.3 0M835 177.2a3.1 3.1 0 1 0 6.3 0a3.1 3.1 0 1 0 -6.3 0M840.7 175.2a3.1 3.1 0 1 0 6.3 0a3.1 3.1 0 1 0 -6.3 0M816.6 183.4a3.1 3.1 0 1 0 6.3 0a3.1 3.1 0 1 0 -6.3 0M837.3 187.2a3.1 3.1 0 1 0 6.3 0a3.1 3.1 0 1 0 -6.3 0M839.4 189.5a3.1 3.1 0 1 0 6.3 0a3.1 3.1 0 1 0 -6.3 0M840.8 191.7a3.1 3.1 0 1 0 6.3 0a3.1 3.1 0 1 0 -6.3 0M803.9 192a3.1 3.1 0 1 0 6.3 0a3.1 3.1 0 1 0 -6.3 0M814.9 193.1a3.1 3.1 0 1 0 6.3 0a3.1 3.1 0 1 0 -6.3 0M821.6 196.4a3.1 3.1 0 1 0 6.3 0a3.1 3.1 0 1 0 -6.3 0M843.8 197.5a3.1 3.1 0 1 0 6.3 0a3.1 3.1 0 1 0 -6.3 0M813.8 201.9a3.1 3.1 0 1 0 6.3 0a3.1 3.1 0 1 0 -6.3 0M818.2 203.1a3.1 3.1 0 1 0 6.3 0a3.1 3.1 0 1 0 -6.3 0M811.7 205.8a3.1 3.1 0 1 0 6.3 0a3.1 3.1 0 1 0 -6.3 0M824.4 201.6a3.1 3.1 0 1 0 6.3 0a3.1 3.1 0 1 0 -6.3 0M827.1 204.2a3.1 3.1 0 1 0 6.3 0a3.1 3.1 0 1 0 -6.3 0M825.6 209.9a3.1 3.1 0 1 0 6.3 0a3.1 3.1 0 1 0 -6.3 0M825.6 212.2a3.1 3.1 0 1 0 6.3 0a3.1 3.1 0 1 0 -6.3 0M841.2 208.3a3.1 3.1 0 1 0 6.3 0a3.1 3.1 0 1 0 -6.3 0M791.2 209a3.1 3.1 0 1 0 6.3 0a3.1 3.1 0 1 0 -6.3 0M800.6 212.7a3.1 3.1 0 1 0 6.3 0a3.1 3.1 0 1 0 -6.3 0M809.6 217.1a3.1 3.1 0 1 0 6.3 0a3.1 3.1 0 1 0 -6.3 0M812.6 222.2a3.1 3.1 0 1 0 6.3 0a3.1 3.1 0 1 0 -6.3 0M815.2 226.3a3.1 3.1 0 1 0 6.3 0a3.1 3.1 0 1 0 -6.3 0M832 223.5a3.1 3.1 0 1 0 6.3 0a3.1 3.1 0 1 0 -6.3 0M826.7 227a3.1 3.1 0 1 0 6.3 0a3.1 3.1 0 1 0 -6.3 0M770 222.8a3.1 3.1 0 1 0 6.3 0a3.1 3.1 0 1 0 -6.3 0M796.7 226.3a3.1 3.1 0 1 0 6.3 0a3.1 3.1 0 1 0 -6.3 0M846.1 211.6a3.1 3.1 0 1 0 6.3 0a3.1 3.1 0 1 0 -6.3 0M845.6 221.3a3.1 3.1 0 1 0 6.3 0a3.1 3.1 0 1 0 -6.3 0"/>
<path fill="#FF7F00" d="M851.3 185.9a3.1 3.1 0 1 0 6.3 0a3.1 3.1 0 1 0 -6.3 0M855.9 224a3.1 3.1 0 1 0 6.3 0a3.1 3.1 0 1 0 -6.3 0M860.7 220.6a3.1 3.1 0 1 0 6.3 0a3.1 3.1 0 1 0 -6.3 0M849.4 229.2a3.1 3.1 0 1 0 6.3 0a3.1 3.1 0 1 0 -6.3 0M847.8 231.6a3.1 3.1 0 1 0 6.3 0a3.1 3.1 0 1 0 -6.3 0"/>
<path fill="#E31A1C" d="M852.6 488.4a3.1 3.1 0 1 0 6.3 0a3.1 3.1 0 1 0 -6.3 0M883.3 503.3a3.1 3.1 0 1 0 6.3 0a3.1 3.1 0 1 0 -6.3 0M886.6 505.7a3.1 3.1 0 1 0 6.3 0a3.1 3.1 0 1 0 -6.3 0M882.2 508.9a3.1 3.1 0 1 0 6.3 0a3.1 3.1 0 1 0 -6.3 0M879.8 513.8a3.1 3.1 0 1 0 6.3 0a3.1 3.1 0 1 0 -6.3 0M877.7 507.3a3.1 3.1 0 1 0 6.3 0a3.1 3.1 0 1 0 -6.3 0M869.6 504.1a3.1 3.1 0 1 0 6.3 0a3.1 3.1 0 1 0 -6.3 0M864.7 500.8a3.1 3.1 0 1 0 6.3 0a3.1 3.1 0 1 0 -6.3 0M861.5 507.3a3.1 3.1 0 1 0 6.3 0a3.1 3.1 0 1 0 -6.3 0"/>
</g>
<g id="edges" stroke="#666" stroke-opacity="0.5" fill="none">
<line x1="324.6" y1="375" x2="749.6" y2="569.7" stroke-width="6.0"/>
<line x1="358.6" y1="436.7" x2="698.3" y2="373.6" stroke-width="5.3"/>
<line x1="563.3" y1="649.3" x2="735.3" y2="254.7" stroke-width="4.3"/>
<line x1="324.6" y1="375" x2="563.3" y2="649.3" stroke-width="2.5"/>
<line x1="324.6" y1="375" x2="867.6" y2="504.9" stroke-width="2.5"/>
<line x1="358.6" y1="436.7" x2="820.4" y2="295.4" stroke-width="1.0"/>
<line x1="698.3" y1="373.6" x2="820.4" y2="295.4" stroke-width="1.7"/>
<line x1="735.3" y1="254.7" x2="867.6" y2="504.9" stroke-width="1.7"/>
<line x1="820.4" y1="295.4" x2="867.6" y2="504.9" stroke-width="1.5"/>
<line x1="749.6" y1="569.7" x2="867.6" y2="504.9" stroke-width="3.5"/>
<line x1="563.3" y1="649.3" x2="867.6" y2="504.9" stroke-width="1.5"/>
</g>
<g id="nodes" stroke="#000" stroke-width="2.3">
<circle cx="324.6" cy="375" r="14.25" fill="#A6CEE3"/>
<circle cx="358.6" cy="436.7" r="14.25" fill="#33A02C"/>
<circle cx="563.3" cy="649.3" r="14.25" fill="#1F78B4"/>
<circle cx="749.6" cy="569.7" r="14.25" fill="#FDBF6F"/>
<circle cx="735.3" cy="254.7" r="14.25" fill="#B2DF8A"/>
<circle cx="698.3" cy="373.6" r="14.25" fill="#FB9A99"/>
<circle cx="820.4" cy="295.4" r="14.25" fill="#FF7F00"/>
<circle cx="867.6" cy="504.9" r="14.25" fill="#E31A1C"/>
</g>
<rect x="240.7" y="71.6" width="678.1" height="678.2" fill="none" stroke="#000" stroke-width="2.8"/>
<path d="M231.7 188.6H240M231.7 317.8H240M231.7 447.1H240M231.7 576.3H240M231.7 705.5H240M336 750V758.6M476.8 750V758.6M617.5 750V758.6M758.3 750V758.6M899.1 750V758.6" stroke="#333" stroke-width="2.8" fill="none"/>
<g id="legend">
<circle cx="964.6" cy="328.4" r="13.3" fill="#A6CEE3"/>
<circle cx="964.6" cy="358.5" r="13.3" fill="#1F78B4"/>
<circle cx="964.6" cy="388.6" r="13.3" fill="#B2DF8A"/>
<circle cx="964.6" cy="418.7" r="13.3" fill="#33A02C"/>
<circle cx="964.6" cy="448.8" r="13.3" fill="#FDBF6F"/>
<circle cx="964.6" cy="478.9" r="13.3" fill="#FF7F00"/>
<circle cx="964.6" cy="509" r="13.3" fill="#FB9A99"/>
<circle cx="964.6" cy="539.1" r="13.3" fill="#E31A1C"/>
</g>
<g class="h" id="labels" fill="#000">
<text x="249.8" y="53.9" font-size="33.3" textLength="205.4" lengthAdjust="spacingAndGlyphs">nCells:1000</text>
<text x="175.3" y="199.7" font-size="30.6" textLength="51.5" lengthAdjust="spacingAndGlyphs">5.0</text>
<text x="175.3" y="328.9" font-size="30.6" textLength="51.5" lengthAdjust="spacingAndGlyphs">2.5</text>
<text x="175.3" y="458.2" font-size="30.6" textLength="51.5" lengthAdjust="spacingAndGlyphs">0.0</text>
<text x="163.6" y="587.4" font-size="30.6" textLength="63.2" lengthAdjust="spacingAndGlyphs">-2.5</text>
<text x="163.6" y="716.6" font-size="30.6" textLength="63.2" lengthAdjust="spacingAndGlyphs">-5.0</text>
<text x="309.5" y="786.2" font-size="30.6" textLength="52.9" lengthAdjust="spacingAndGlyphs">-10</text>
<text x="460.7" y="786.2" font-size="30.6" textLength="32.3" lengthAdjust="spacingAndGlyphs">-5</text>
<text x="607.2" y="786.2" font-size="30.6" textLength="20.6" lengthAdjust="spacingAndGlyphs">0</text>
<text x="748" y="786.2" font-size="30.6" textLength="20.6" lengthAdjust="spacingAndGlyphs">5</text>
<text x="878.5" y="786.2" font-size="30.6" textLength="41.2" lengthAdjust="spacingAndGlyphs">10</text>
<text x="510.6" y="828.9" font-size="33.3" textLength="138.4" lengthAdjust="spacingAndGlyphs">umap_1</text>
<text x="949.6" y="293.9" font-size="30.6" textLength="205.7" lengthAdjust="spacingAndGlyphs">SubCellType:</text>
<text x="994.4" y="339.1" font-size="27.8" textLength="174.5" lengthAdjust="spacingAndGlyphs">Ductal(253)</text>
<text x="994.4" y="369.2" font-size="27.8" textLength="278.5" lengthAdjust="spacingAndGlyphs">Ngn3-high-EP(169)</text>
<text x="994.4" y="399.3" font-size="27.8" textLength="146.9" lengthAdjust="spacingAndGlyphs">Beta(174)</text>
<text x="994.4" y="429.4" font-size="27.8" textLength="245.4" lengthAdjust="spacingAndGlyphs">Ngn3-low-EP(67)</text>
<text x="994.4" y="459.5" font-size="27.8" textLength="282.4" lengthAdjust="spacingAndGlyphs">Pre-endocrine(156)</text>
<text x="994.4" y="489.6" font-size="27.8" textLength="162.2" lengthAdjust="spacingAndGlyphs">Alpha(121)</text>
<text x="994.4" y="519.7" font-size="27.8" textLength="165.3" lengthAdjust="spacingAndGlyphs">Epsilon(40)</text>
<text x="994.4" y="549.8" font-size="27.8" textLength="138.3" lengthAdjust="spacingAndGlyphs">Delta(20)</text>
<text transform="translate(148.2 479.2) rotate(-90)" font-size="33.3" textLength="136.6" lengthAdjust="spacingAndGlyphs">umap_2</text>
</g>
</svg>
</body></html>
